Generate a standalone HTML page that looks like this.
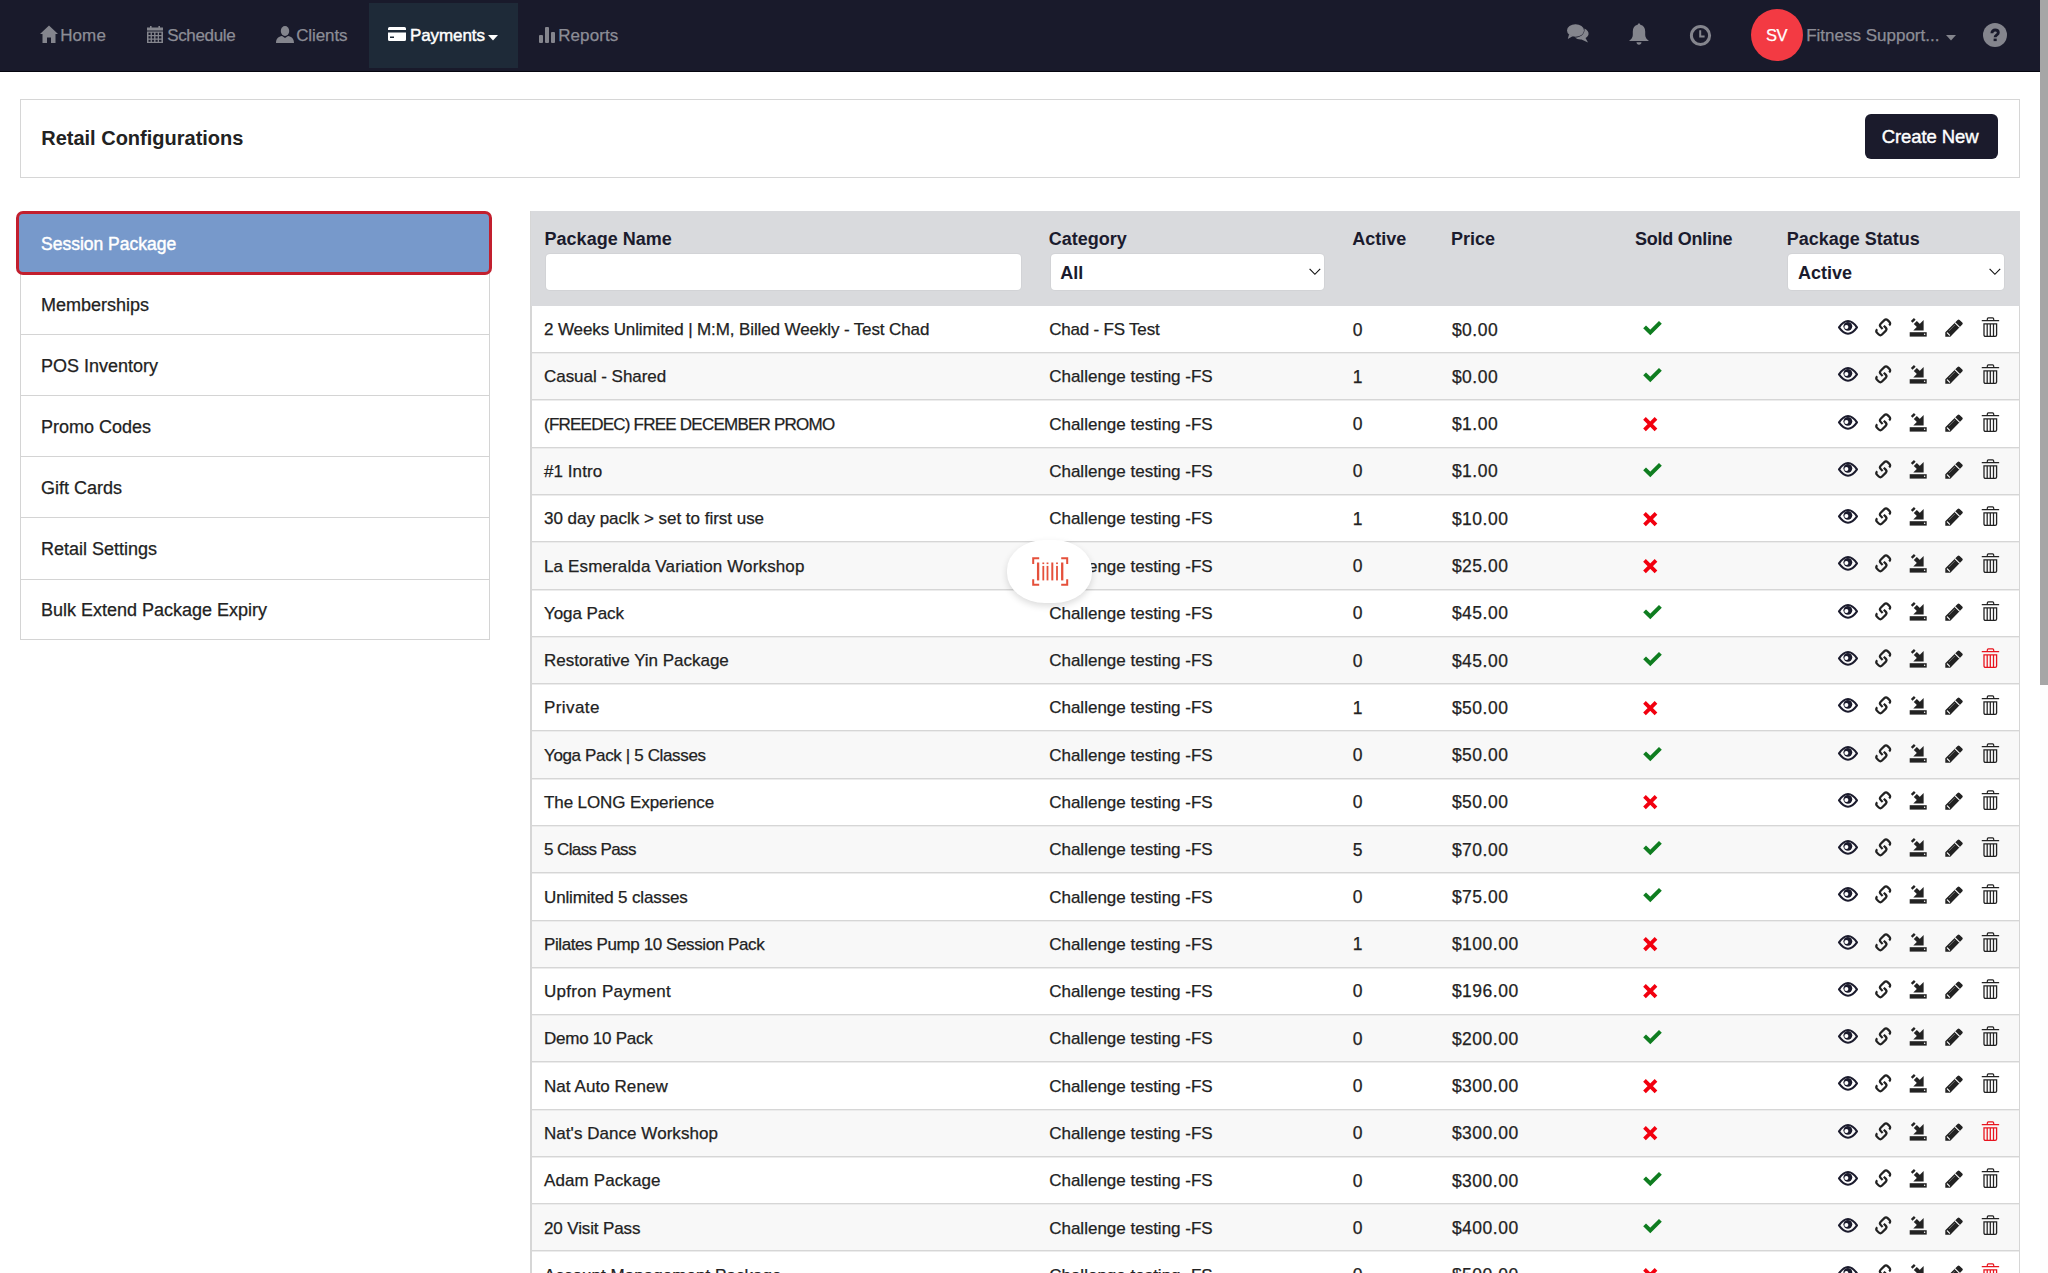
<!DOCTYPE html>
<html><head><meta charset="utf-8"><title>Retail Configurations</title>
<style>
html,body{margin:0;padding:0;}
body{width:2048px;height:1273px;overflow:hidden;position:relative;background:#fff;font-family:"Liberation Sans",sans-serif;}
.t{position:absolute;white-space:nowrap;}
.s{-webkit-text-stroke:0.25px currentColor;}
.a{position:absolute;}
svg{position:absolute;overflow:visible;}
</style></head><body>
<div class="a" style="left:2040px;top:0;width:8px;height:1273px;background:#fdfdfd"></div><div class="a" style="left:2040px;top:0;width:8px;height:685px;background:#a6a6a6"></div><div class="a" style="left:0;top:0;width:2040px;height:72px;background:#191a2b"></div><div class="a" style="left:0;top:70.5px;width:2040px;height:1.5px;background:#05050f"></div><div class="a" style="left:369px;top:3px;width:149px;height:65px;background:#1e2a38"></div><svg style="left:40px;top:25px" width="18" height="18" viewBox="0 0 18 18"><path d="M9 0.5 L18 9 L15.5 9 L15.5 18 L11 18 L11 12.5 L7 12.5 L7 18 L2.5 18 L2.5 9 L0 9 Z" fill="#84858d"/></svg><svg style="left:146.5px;top:26px" width="16" height="17" viewBox="0 0 16 17"><rect x="0" y="1.5" width="16" height="3" fill="#84858d"/><rect x="3" y="0" width="1.6" height="3" fill="#84858d"/><rect x="11.4" y="0" width="1.6" height="3" fill="#84858d"/><path d="M0 5.5 H16 V17 H0 Z M1.5 6.8 V9 H3.6 V6.8 Z M4.9 6.8 V9 H7.1 V6.8 Z M8.5 6.8 V9 H10.7 V6.8 Z M12 6.8 V9 H14.4 V6.8 Z M1.5 10.3 V12.5 H3.6 V10.3 Z M4.9 10.3 V12.5 H7.1 V10.3 Z M8.5 10.3 V12.5 H10.7 V10.3 Z M12 10.3 V12.5 H14.4 V10.3 Z M1.5 13.8 V15.8 H3.6 V13.8 Z M4.9 13.8 V15.8 H7.1 V13.8 Z M8.5 13.8 V15.8 H10.7 V13.8 Z M12 13.8 V15.8 H14.4 V13.8 Z" fill="#84858d" fill-rule="evenodd"/></svg><svg style="left:276px;top:26px" width="18" height="17" viewBox="0 0 18 17"><ellipse cx="9" cy="5" rx="4.2" ry="5" fill="#84858d"/><path d="M0 17 C0 12.5 2.5 10.5 6 10 L9 12 L12 10 C15.5 10.5 18 12.5 18 17 Z" fill="#84858d"/></svg><svg style="left:388px;top:27px" width="18" height="14" viewBox="0 0 18 14"><path d="M1.5 0 H16.5 A1.5 1.5 0 0 1 18 1.5 V12.5 A1.5 1.5 0 0 1 16.5 14 H1.5 A1.5 1.5 0 0 1 0 12.5 V1.5 A1.5 1.5 0 0 1 1.5 0 Z M0 3 V5.5 H18 V3 Z M2 9.5 V11 H6 V9.5 Z" fill="#fff" fill-rule="evenodd"/></svg><svg style="left:488px;top:34.5px" width="10" height="6" viewBox="0 0 10 6"><path d="M0 0 H10 L5 5.5 Z" fill="#fff"/></svg><svg style="left:539px;top:27px" width="17" height="16" viewBox="0 0 17 16"><rect x="0" y="8" width="4" height="8" rx="1" fill="#84858d"/><rect x="6" y="0" width="4" height="16" rx="1" fill="#84858d"/><rect x="12" y="5" width="4" height="11" rx="1" fill="#84858d"/></svg><div class="t s" style="left:60.2px;top:25.31px;font-size:17px;line-height:21px;color:#8c8d96;font-weight:normal;letter-spacing:0.1px;">Home</div>
<div class="t s" style="left:167.2px;top:25.31px;font-size:17px;line-height:21px;color:#8c8d96;font-weight:normal;letter-spacing:-0.35px;">Schedule</div>
<div class="t s" style="left:296.2px;top:25.31px;font-size:17px;line-height:21px;color:#8c8d96;font-weight:normal;letter-spacing:-0.1px;">Clients</div>
<div class="t" style="left:410px;top:25.31px;font-size:17px;line-height:21px;color:#fff;font-weight:normal;letter-spacing:-0.1px;-webkit-text-stroke:0.45px #fff;">Payments</div>
<div class="t s" style="left:558.2px;top:25.31px;font-size:17px;line-height:21px;color:#8c8d96;font-weight:normal;letter-spacing:0.1px;">Reports</div>
<svg style="left:1567px;top:24px" width="22" height="19" viewBox="0 0 22 19"><ellipse cx="8.5" cy="6.5" rx="8.5" ry="6.2" fill="#84858d"/><path d="M2 10.5 L0.8 15 L6 12 Z" fill="#84858d"/><path d="M17.5 4.5 C20.5 6 22 8 21.5 10.5 C21 12.5 19.5 13.5 18.5 14 L21 18.5 L14.5 15.5 C12 15.8 9.5 15 8 13.6 C13 13.5 17.5 10.5 17.5 6 Z" fill="#84858d"/></svg><svg style="left:1629px;top:23px" width="20" height="22" viewBox="0 0 20 22"><path d="M10 0.5 C10.8 0.5 11.2 1 11.3 1.8 C14.5 2.5 16.2 5 16.2 8.5 L16.2 12 C16.2 14.5 18 16.5 20 18 L0 18 C2 16.5 3.8 14.5 3.8 12 L3.8 8.5 C3.8 5 5.5 2.5 8.7 1.8 C8.8 1 9.2 0.5 10 0.5 Z M7.5 19.2 H12.5 C12.5 20.6 11.4 21.7 10 21.7 C8.6 21.7 7.5 20.6 7.5 19.2 Z" fill="#84858d"/></svg><svg style="left:1690px;top:25px" width="21" height="21" viewBox="0 0 21 21"><circle cx="10.5" cy="10.5" r="9.1" fill="none" stroke="#84858d" stroke-width="3"/><path d="M10.2 5.2 V11.4 H14.6" fill="none" stroke="#84858d" stroke-width="2"/></svg><div class="a" style="left:1751px;top:9px;width:52px;height:52px;border-radius:50%;background:#f33a43"></div><div class="t s" style="left:1766px;top:25.38px;font-size:16.5px;line-height:21px;color:#fff;font-weight:normal;letter-spacing:-0.5px;">SV</div>
<div class="t s" style="left:1806.2px;top:25.11px;font-size:17px;line-height:21px;color:#8c8d96;font-weight:normal;">Fitness Support...</div>
<svg style="left:1946px;top:35px" width="10" height="6" viewBox="0 0 10 6"><path d="M0 0 H10 L5 5.5 Z" fill="#84858d"/></svg><svg style="left:1983px;top:23px" width="24" height="24" viewBox="0 0 24 24"><circle cx="12" cy="12" r="12" fill="#84858d"/><path d="M8.9 10.2 C8.9 7.9 10.4 7.0 12.1 7.0 C13.9 7.0 15.3 8.0 15.3 9.7 C15.3 11.8 12.1 11.9 12.1 14.3" fill="none" stroke="#191a2b" stroke-width="2.9"/><rect x="10.6" y="15.6" width="3.1" height="2.5" fill="#191a2b"/></svg><div class="a" style="left:20px;top:99px;width:1998px;height:77px;border:1px solid #d6d6d6"></div><div class="t" style="left:41.2px;top:126.27px;font-size:20px;line-height:25px;color:#222;font-weight:bold;">Retail Configurations</div>
<div class="a" style="left:1865px;top:114px;width:132.5px;height:44.5px;background:#1b1b2c;border-radius:6px"></div><div class="t" style="left:1881.8px;top:124.99px;font-size:18.5px;line-height:23px;color:#fff;font-weight:normal;letter-spacing:-0.1px;-webkit-text-stroke:0.4px #fff;">Create New</div>
<div class="a" style="left:20px;top:273px;width:468px;height:366px;border:1px solid #d4d4d4;border-top:none"></div><div class="a" style="left:21px;top:334.1px;width:468px;height:1px;background:#d4d4d4"></div><div class="t s" style="left:41px;top:293.66px;font-size:18px;line-height:22px;color:#222;font-weight:normal;">Memberships</div>
<div class="a" style="left:21px;top:395.2px;width:468px;height:1px;background:#d4d4d4"></div><div class="t s" style="left:41px;top:354.76px;font-size:18px;line-height:22px;color:#222;font-weight:normal;">POS Inventory</div>
<div class="a" style="left:21px;top:456.3px;width:468px;height:1px;background:#d4d4d4"></div><div class="t s" style="left:41px;top:415.86px;font-size:18px;line-height:22px;color:#222;font-weight:normal;">Promo Codes</div>
<div class="a" style="left:21px;top:517.4px;width:468px;height:1px;background:#d4d4d4"></div><div class="t s" style="left:41px;top:476.96px;font-size:18px;line-height:22px;color:#222;font-weight:normal;">Gift Cards</div>
<div class="a" style="left:21px;top:578.5px;width:468px;height:1px;background:#d4d4d4"></div><div class="t s" style="left:41px;top:538.06px;font-size:18px;line-height:22px;color:#222;font-weight:normal;">Retail Settings</div>
<div class="t s" style="left:41px;top:599.16px;font-size:18px;line-height:22px;color:#222;font-weight:normal;">Bulk Extend Package Expiry</div>
<div class="a" style="left:16.2px;top:211.1px;width:469.4px;height:57.5px;border:3px solid #c21f2e;border-radius:7px;background:#7799cb"></div><div class="t" style="left:41px;top:232.64px;font-size:17.5px;line-height:22px;color:#fff;font-weight:normal;-webkit-text-stroke:0.45px #fff;">Session Package</div>
<div class="a" style="left:530px;top:211px;width:1490px;height:1062px;border-left:2px solid #d6d6d6;border-right:1px solid #d6d6d6;box-sizing:border-box"></div><div class="a" style="left:531px;top:211px;width:1489px;height:94.5px;background:#d9dadd"></div><div class="t" style="left:544.6px;top:228.36px;font-size:18px;line-height:22px;color:#1b1b2d;font-weight:bold;">Package Name</div>
<div class="t" style="left:1048.8px;top:228.36px;font-size:18px;line-height:22px;color:#1b1b2d;font-weight:bold;">Category</div>
<div class="t" style="left:1352.2px;top:228.36px;font-size:18px;line-height:22px;color:#1b1b2d;font-weight:bold;">Active</div>
<div class="t" style="left:1451.0px;top:228.36px;font-size:18px;line-height:22px;color:#1b1b2d;font-weight:bold;">Price</div>
<div class="t" style="left:1635.0px;top:228.36px;font-size:18px;line-height:22px;color:#1b1b2d;font-weight:bold;letter-spacing:-0.25px;">Sold Online</div>
<div class="t" style="left:1786.8px;top:228.36px;font-size:18px;line-height:22px;color:#1b1b2d;font-weight:bold;">Package Status</div>
<div class="a" style="left:546px;top:254px;width:475px;height:36px;background:#fff;border-radius:4px;box-shadow:0 0 0 1px #d2d3d6"></div><div class="a" style="left:1050.5px;top:254px;width:273.5px;height:36px;background:#fff;border-radius:4px;box-shadow:0 0 0 1px #d2d3d6"></div><div class="a" style="left:1788px;top:254px;width:216px;height:36px;background:#fff;border-radius:4px;box-shadow:0 0 0 1px #d2d3d6"></div><div class="t" style="left:1060.3px;top:261.56px;font-size:18px;line-height:22px;color:#1b1b2d;font-weight:bold;">All</div>
<div class="t" style="left:1798px;top:261.56px;font-size:18px;line-height:22px;color:#1b1b2d;font-weight:bold;">Active</div>
<svg style="left:1308.8px;top:268px" width="12" height="8" viewBox="0 0 12 8"><path d="M0.6 0.9 L5.9 6.3 L11.2 0.9" fill="none" stroke="#111" stroke-width="1.15"/></svg><svg style="left:1988.5px;top:268px" width="12" height="8" viewBox="0 0 12 8"><path d="M0.6 0.9 L5.9 6.3 L11.2 0.9" fill="none" stroke="#111" stroke-width="1.15"/></svg><div class="t s" style="left:544.0px;top:319.21px;font-size:17px;line-height:21px;color:#222;font-weight:normal;letter-spacing:-0.111px;">2 Weeks Unlimited | M:M, Billed Weekly - Test Chad</div>
<div class="t s" style="left:1049.2px;top:319.21px;font-size:17px;line-height:21px;color:#222;font-weight:normal;letter-spacing:-0.2px;">Chad - FS Test</div>
<div class="t s" style="left:1352.8px;top:318.54px;font-size:17.5px;line-height:22px;color:#222;font-weight:normal;">0</div>
<div class="t s" style="left:1451.9px;top:318.54px;font-size:17.5px;line-height:22px;color:#222;font-weight:normal;letter-spacing:0.5px;">$0.00</div>
<svg style="left:1642px;top:319.0px" width="21" height="18" viewBox="0 0 21 18"><path d="M2.6 7.8 L8.3 13.5 L18.4 3.4" fill="none" stroke="#0f7d20" stroke-width="4" stroke-linejoin="miter"/></svg><svg style="left:1838px;top:320.0px" width="20" height="15" viewBox="0 0 20 15"><path d="M1.0 7.4 Q10 -5.3 19.0 7.4 Q10 20.1 1.0 7.4 Z" fill="none" stroke="#1b1b2d" stroke-width="2.1" stroke-linejoin="round"/><circle cx="9.85" cy="6.3" r="4.4" fill="#1b1b2d"/><circle cx="8.4" cy="7.0" r="2.0" fill="#fff"/></svg><svg style="left:1874px;top:317.0px" width="18" height="20" viewBox="0 0 18 20"><g fill="none" stroke="#222" stroke-width="2.2"><path transform="translate(12,1.5) rotate(45)" d="M7.1 2.6 V2.3 Q7.1 0 4.8 0 H2.3 Q0 0 0 2.3 V7.5 Q0 9.8 2.3 9.8 H5"/><path transform="rotate(180 9.2 10.35) translate(12,1.5) rotate(45)" d="M7.1 2.6 V2.3 Q7.1 0 4.8 0 H2.3 Q0 0 0 2.3 V7.5 Q0 9.8 2.3 9.8 H5"/></g></svg><svg style="left:1909px;top:317.0px" width="19" height="20" viewBox="0 0 19 20"><rect x="0.7" y="15.2" width="17" height="4.4" fill="#222"/><circle cx="15.6" cy="17.3" r="0.75" fill="#fff"/><path d="M3.4 2.5 L5.1 4.2" stroke="#222" stroke-width="4.3"/><path d="M6.3 5.4 L11.5 10.6" stroke="#222" stroke-width="4.3"/><path d="M14.6 3 V13.5 H4.3 Z" fill="#222"/></svg><svg style="left:1944px;top:318.0px" width="20" height="20" viewBox="0 0 20 20"><path d="M1.3 14.2 L13.6 1.9 Q14.6 0.9 15.6 1.9 L18.3 4.6 Q19.3 5.6 18.3 6.6 L6.3 18.7 L1.3 18.7 Z" fill="#222"/><path d="M10.9 4.6 L15.7 9.4" stroke="#fff" stroke-width="1.1"/><path d="M5.3 12.6 L11.0 6.8" stroke="#fff" stroke-width="0.6" stroke-dasharray="0.8 0.6"/><path d="M3.3 14.9 L5.5 17.1" stroke="#fff" stroke-width="1.2" stroke-linecap="round"/></svg><svg style="left:1980px;top:315.0px" width="21" height="23" viewBox="0 0 21 23"><path d="M2.3 5.7 H18.6" stroke="#222" stroke-width="1.3" stroke-linecap="round"/><path d="M7.3 5.3 V3.9 Q7.3 2.9 8.4 2.9 H12.6 Q13.7 2.9 13.7 3.9 V5.3" fill="none" stroke="#222" stroke-width="1.2"/><path d="M4.0 8.8 H16.6 V19.9 Q16.6 21.3 15.1 21.3 H5.5 Q4.0 21.3 4.0 19.9 Z" fill="none" stroke="#222" stroke-width="1.3"/><path d="M7.2 9 V21 M10.3 9 V21 M13.5 9 V21" stroke="#222" stroke-width="1.25"/></svg><div class="a" style="left:532px;top:352.78px;width:1487px;height:47.28px;background:#f8f8f8"></div><div class="a" style="left:532px;top:352px;width:1487px;height:1px;background:#d6d6d6"></div><div class="a" style="left:532px;top:353px;width:1487px;height:1px;background:#ececec"></div><div class="t s" style="left:544.0px;top:366.49px;font-size:17px;line-height:21px;color:#222;font-weight:normal;letter-spacing:-0.046px;">Casual - Shared</div>
<div class="t s" style="left:1049.2px;top:366.49px;font-size:17px;line-height:21px;color:#222;font-weight:normal;">Challenge testing -FS</div>
<div class="t s" style="left:1352.8px;top:365.82px;font-size:17.5px;line-height:22px;color:#222;font-weight:normal;">1</div>
<div class="t s" style="left:1451.9px;top:365.82px;font-size:17.5px;line-height:22px;color:#222;font-weight:normal;letter-spacing:0.5px;">$0.00</div>
<svg style="left:1642px;top:366.28px" width="21" height="18" viewBox="0 0 21 18"><path d="M2.6 7.8 L8.3 13.5 L18.4 3.4" fill="none" stroke="#0f7d20" stroke-width="4" stroke-linejoin="miter"/></svg><svg style="left:1838px;top:367.28px" width="20" height="15" viewBox="0 0 20 15"><path d="M1.0 7.4 Q10 -5.3 19.0 7.4 Q10 20.1 1.0 7.4 Z" fill="none" stroke="#1b1b2d" stroke-width="2.1" stroke-linejoin="round"/><circle cx="9.85" cy="6.3" r="4.4" fill="#1b1b2d"/><circle cx="8.4" cy="7.0" r="2.0" fill="#fff"/></svg><svg style="left:1874px;top:364.28px" width="18" height="20" viewBox="0 0 18 20"><g fill="none" stroke="#222" stroke-width="2.2"><path transform="translate(12,1.5) rotate(45)" d="M7.1 2.6 V2.3 Q7.1 0 4.8 0 H2.3 Q0 0 0 2.3 V7.5 Q0 9.8 2.3 9.8 H5"/><path transform="rotate(180 9.2 10.35) translate(12,1.5) rotate(45)" d="M7.1 2.6 V2.3 Q7.1 0 4.8 0 H2.3 Q0 0 0 2.3 V7.5 Q0 9.8 2.3 9.8 H5"/></g></svg><svg style="left:1909px;top:364.28px" width="19" height="20" viewBox="0 0 19 20"><rect x="0.7" y="15.2" width="17" height="4.4" fill="#222"/><circle cx="15.6" cy="17.3" r="0.75" fill="#fff"/><path d="M3.4 2.5 L5.1 4.2" stroke="#222" stroke-width="4.3"/><path d="M6.3 5.4 L11.5 10.6" stroke="#222" stroke-width="4.3"/><path d="M14.6 3 V13.5 H4.3 Z" fill="#222"/></svg><svg style="left:1944px;top:365.28px" width="20" height="20" viewBox="0 0 20 20"><path d="M1.3 14.2 L13.6 1.9 Q14.6 0.9 15.6 1.9 L18.3 4.6 Q19.3 5.6 18.3 6.6 L6.3 18.7 L1.3 18.7 Z" fill="#222"/><path d="M10.9 4.6 L15.7 9.4" stroke="#fff" stroke-width="1.1"/><path d="M5.3 12.6 L11.0 6.8" stroke="#fff" stroke-width="0.6" stroke-dasharray="0.8 0.6"/><path d="M3.3 14.9 L5.5 17.1" stroke="#fff" stroke-width="1.2" stroke-linecap="round"/></svg><svg style="left:1980px;top:362.28px" width="21" height="23" viewBox="0 0 21 23"><path d="M2.3 5.7 H18.6" stroke="#222" stroke-width="1.3" stroke-linecap="round"/><path d="M7.3 5.3 V3.9 Q7.3 2.9 8.4 2.9 H12.6 Q13.7 2.9 13.7 3.9 V5.3" fill="none" stroke="#222" stroke-width="1.2"/><path d="M4.0 8.8 H16.6 V19.9 Q16.6 21.3 15.1 21.3 H5.5 Q4.0 21.3 4.0 19.9 Z" fill="none" stroke="#222" stroke-width="1.3"/><path d="M7.2 9 V21 M10.3 9 V21 M13.5 9 V21" stroke="#222" stroke-width="1.25"/></svg><div class="a" style="left:532px;top:399px;width:1487px;height:1px;background:#d6d6d6"></div><div class="a" style="left:532px;top:400px;width:1487px;height:1px;background:#ececec"></div><div class="t s" style="left:544.0px;top:413.77px;font-size:17px;line-height:21px;color:#222;font-weight:normal;letter-spacing:-0.766px;">(FREEDEC) FREE DECEMBER PROMO</div>
<div class="t s" style="left:1049.2px;top:413.77px;font-size:17px;line-height:21px;color:#222;font-weight:normal;">Challenge testing -FS</div>
<div class="t s" style="left:1352.8px;top:413.10px;font-size:17.5px;line-height:22px;color:#222;font-weight:normal;">0</div>
<div class="t s" style="left:1451.9px;top:413.10px;font-size:17.5px;line-height:22px;color:#222;font-weight:normal;letter-spacing:0.5px;">$1.00</div>
<svg style="left:1642px;top:416.0px" width="17" height="17" viewBox="0 0 17 17"><path d="M2.5 2.4 L14 13.9 M14 2.4 L2.5 13.9" stroke="#f2000f" stroke-width="3.8"/></svg><svg style="left:1838px;top:414.56px" width="20" height="15" viewBox="0 0 20 15"><path d="M1.0 7.4 Q10 -5.3 19.0 7.4 Q10 20.1 1.0 7.4 Z" fill="none" stroke="#1b1b2d" stroke-width="2.1" stroke-linejoin="round"/><circle cx="9.85" cy="6.3" r="4.4" fill="#1b1b2d"/><circle cx="8.4" cy="7.0" r="2.0" fill="#fff"/></svg><svg style="left:1874px;top:411.56px" width="18" height="20" viewBox="0 0 18 20"><g fill="none" stroke="#222" stroke-width="2.2"><path transform="translate(12,1.5) rotate(45)" d="M7.1 2.6 V2.3 Q7.1 0 4.8 0 H2.3 Q0 0 0 2.3 V7.5 Q0 9.8 2.3 9.8 H5"/><path transform="rotate(180 9.2 10.35) translate(12,1.5) rotate(45)" d="M7.1 2.6 V2.3 Q7.1 0 4.8 0 H2.3 Q0 0 0 2.3 V7.5 Q0 9.8 2.3 9.8 H5"/></g></svg><svg style="left:1909px;top:411.56px" width="19" height="20" viewBox="0 0 19 20"><rect x="0.7" y="15.2" width="17" height="4.4" fill="#222"/><circle cx="15.6" cy="17.3" r="0.75" fill="#fff"/><path d="M3.4 2.5 L5.1 4.2" stroke="#222" stroke-width="4.3"/><path d="M6.3 5.4 L11.5 10.6" stroke="#222" stroke-width="4.3"/><path d="M14.6 3 V13.5 H4.3 Z" fill="#222"/></svg><svg style="left:1944px;top:412.56px" width="20" height="20" viewBox="0 0 20 20"><path d="M1.3 14.2 L13.6 1.9 Q14.6 0.9 15.6 1.9 L18.3 4.6 Q19.3 5.6 18.3 6.6 L6.3 18.7 L1.3 18.7 Z" fill="#222"/><path d="M10.9 4.6 L15.7 9.4" stroke="#fff" stroke-width="1.1"/><path d="M5.3 12.6 L11.0 6.8" stroke="#fff" stroke-width="0.6" stroke-dasharray="0.8 0.6"/><path d="M3.3 14.9 L5.5 17.1" stroke="#fff" stroke-width="1.2" stroke-linecap="round"/></svg><svg style="left:1980px;top:409.56px" width="21" height="23" viewBox="0 0 21 23"><path d="M2.3 5.7 H18.6" stroke="#222" stroke-width="1.3" stroke-linecap="round"/><path d="M7.3 5.3 V3.9 Q7.3 2.9 8.4 2.9 H12.6 Q13.7 2.9 13.7 3.9 V5.3" fill="none" stroke="#222" stroke-width="1.2"/><path d="M4.0 8.8 H16.6 V19.9 Q16.6 21.3 15.1 21.3 H5.5 Q4.0 21.3 4.0 19.9 Z" fill="none" stroke="#222" stroke-width="1.3"/><path d="M7.2 9 V21 M10.3 9 V21 M13.5 9 V21" stroke="#222" stroke-width="1.25"/></svg><div class="a" style="left:532px;top:447.34px;width:1487px;height:47.28px;background:#f8f8f8"></div><div class="a" style="left:532px;top:447px;width:1487px;height:1px;background:#d6d6d6"></div><div class="a" style="left:532px;top:448px;width:1487px;height:1px;background:#ececec"></div><div class="t s" style="left:544.0px;top:461.05px;font-size:17px;line-height:21px;color:#222;font-weight:normal;letter-spacing:0.063px;">#1 Intro</div>
<div class="t s" style="left:1049.2px;top:461.05px;font-size:17px;line-height:21px;color:#222;font-weight:normal;">Challenge testing -FS</div>
<div class="t s" style="left:1352.8px;top:460.38px;font-size:17.5px;line-height:22px;color:#222;font-weight:normal;">0</div>
<div class="t s" style="left:1451.9px;top:460.38px;font-size:17.5px;line-height:22px;color:#222;font-weight:normal;letter-spacing:0.5px;">$1.00</div>
<svg style="left:1642px;top:460.84000000000003px" width="21" height="18" viewBox="0 0 21 18"><path d="M2.6 7.8 L8.3 13.5 L18.4 3.4" fill="none" stroke="#0f7d20" stroke-width="4" stroke-linejoin="miter"/></svg><svg style="left:1838px;top:461.84000000000003px" width="20" height="15" viewBox="0 0 20 15"><path d="M1.0 7.4 Q10 -5.3 19.0 7.4 Q10 20.1 1.0 7.4 Z" fill="none" stroke="#1b1b2d" stroke-width="2.1" stroke-linejoin="round"/><circle cx="9.85" cy="6.3" r="4.4" fill="#1b1b2d"/><circle cx="8.4" cy="7.0" r="2.0" fill="#fff"/></svg><svg style="left:1874px;top:458.84000000000003px" width="18" height="20" viewBox="0 0 18 20"><g fill="none" stroke="#222" stroke-width="2.2"><path transform="translate(12,1.5) rotate(45)" d="M7.1 2.6 V2.3 Q7.1 0 4.8 0 H2.3 Q0 0 0 2.3 V7.5 Q0 9.8 2.3 9.8 H5"/><path transform="rotate(180 9.2 10.35) translate(12,1.5) rotate(45)" d="M7.1 2.6 V2.3 Q7.1 0 4.8 0 H2.3 Q0 0 0 2.3 V7.5 Q0 9.8 2.3 9.8 H5"/></g></svg><svg style="left:1909px;top:458.84000000000003px" width="19" height="20" viewBox="0 0 19 20"><rect x="0.7" y="15.2" width="17" height="4.4" fill="#222"/><circle cx="15.6" cy="17.3" r="0.75" fill="#fff"/><path d="M3.4 2.5 L5.1 4.2" stroke="#222" stroke-width="4.3"/><path d="M6.3 5.4 L11.5 10.6" stroke="#222" stroke-width="4.3"/><path d="M14.6 3 V13.5 H4.3 Z" fill="#222"/></svg><svg style="left:1944px;top:459.84000000000003px" width="20" height="20" viewBox="0 0 20 20"><path d="M1.3 14.2 L13.6 1.9 Q14.6 0.9 15.6 1.9 L18.3 4.6 Q19.3 5.6 18.3 6.6 L6.3 18.7 L1.3 18.7 Z" fill="#222"/><path d="M10.9 4.6 L15.7 9.4" stroke="#fff" stroke-width="1.1"/><path d="M5.3 12.6 L11.0 6.8" stroke="#fff" stroke-width="0.6" stroke-dasharray="0.8 0.6"/><path d="M3.3 14.9 L5.5 17.1" stroke="#fff" stroke-width="1.2" stroke-linecap="round"/></svg><svg style="left:1980px;top:456.84000000000003px" width="21" height="23" viewBox="0 0 21 23"><path d="M2.3 5.7 H18.6" stroke="#222" stroke-width="1.3" stroke-linecap="round"/><path d="M7.3 5.3 V3.9 Q7.3 2.9 8.4 2.9 H12.6 Q13.7 2.9 13.7 3.9 V5.3" fill="none" stroke="#222" stroke-width="1.2"/><path d="M4.0 8.8 H16.6 V19.9 Q16.6 21.3 15.1 21.3 H5.5 Q4.0 21.3 4.0 19.9 Z" fill="none" stroke="#222" stroke-width="1.3"/><path d="M7.2 9 V21 M10.3 9 V21 M13.5 9 V21" stroke="#222" stroke-width="1.25"/></svg><div class="a" style="left:532px;top:494px;width:1487px;height:1px;background:#d6d6d6"></div><div class="a" style="left:532px;top:495px;width:1487px;height:1px;background:#ececec"></div><div class="t s" style="left:544.0px;top:508.33px;font-size:17px;line-height:21px;color:#222;font-weight:normal;letter-spacing:-0.019px;">30 day paclk &gt; set to first use</div>
<div class="t s" style="left:1049.2px;top:508.33px;font-size:17px;line-height:21px;color:#222;font-weight:normal;">Challenge testing -FS</div>
<div class="t s" style="left:1352.8px;top:507.66px;font-size:17.5px;line-height:22px;color:#222;font-weight:normal;">1</div>
<div class="t s" style="left:1451.9px;top:507.66px;font-size:17.5px;line-height:22px;color:#222;font-weight:normal;letter-spacing:0.5px;">$10.00</div>
<svg style="left:1642px;top:510.56px" width="17" height="17" viewBox="0 0 17 17"><path d="M2.5 2.4 L14 13.9 M14 2.4 L2.5 13.9" stroke="#f2000f" stroke-width="3.8"/></svg><svg style="left:1838px;top:509.12px" width="20" height="15" viewBox="0 0 20 15"><path d="M1.0 7.4 Q10 -5.3 19.0 7.4 Q10 20.1 1.0 7.4 Z" fill="none" stroke="#1b1b2d" stroke-width="2.1" stroke-linejoin="round"/><circle cx="9.85" cy="6.3" r="4.4" fill="#1b1b2d"/><circle cx="8.4" cy="7.0" r="2.0" fill="#fff"/></svg><svg style="left:1874px;top:506.12px" width="18" height="20" viewBox="0 0 18 20"><g fill="none" stroke="#222" stroke-width="2.2"><path transform="translate(12,1.5) rotate(45)" d="M7.1 2.6 V2.3 Q7.1 0 4.8 0 H2.3 Q0 0 0 2.3 V7.5 Q0 9.8 2.3 9.8 H5"/><path transform="rotate(180 9.2 10.35) translate(12,1.5) rotate(45)" d="M7.1 2.6 V2.3 Q7.1 0 4.8 0 H2.3 Q0 0 0 2.3 V7.5 Q0 9.8 2.3 9.8 H5"/></g></svg><svg style="left:1909px;top:506.12px" width="19" height="20" viewBox="0 0 19 20"><rect x="0.7" y="15.2" width="17" height="4.4" fill="#222"/><circle cx="15.6" cy="17.3" r="0.75" fill="#fff"/><path d="M3.4 2.5 L5.1 4.2" stroke="#222" stroke-width="4.3"/><path d="M6.3 5.4 L11.5 10.6" stroke="#222" stroke-width="4.3"/><path d="M14.6 3 V13.5 H4.3 Z" fill="#222"/></svg><svg style="left:1944px;top:507.12px" width="20" height="20" viewBox="0 0 20 20"><path d="M1.3 14.2 L13.6 1.9 Q14.6 0.9 15.6 1.9 L18.3 4.6 Q19.3 5.6 18.3 6.6 L6.3 18.7 L1.3 18.7 Z" fill="#222"/><path d="M10.9 4.6 L15.7 9.4" stroke="#fff" stroke-width="1.1"/><path d="M5.3 12.6 L11.0 6.8" stroke="#fff" stroke-width="0.6" stroke-dasharray="0.8 0.6"/><path d="M3.3 14.9 L5.5 17.1" stroke="#fff" stroke-width="1.2" stroke-linecap="round"/></svg><svg style="left:1980px;top:504.12px" width="21" height="23" viewBox="0 0 21 23"><path d="M2.3 5.7 H18.6" stroke="#222" stroke-width="1.3" stroke-linecap="round"/><path d="M7.3 5.3 V3.9 Q7.3 2.9 8.4 2.9 H12.6 Q13.7 2.9 13.7 3.9 V5.3" fill="none" stroke="#222" stroke-width="1.2"/><path d="M4.0 8.8 H16.6 V19.9 Q16.6 21.3 15.1 21.3 H5.5 Q4.0 21.3 4.0 19.9 Z" fill="none" stroke="#222" stroke-width="1.3"/><path d="M7.2 9 V21 M10.3 9 V21 M13.5 9 V21" stroke="#222" stroke-width="1.25"/></svg><div class="a" style="left:532px;top:541.90px;width:1487px;height:47.28px;background:#f8f8f8"></div><div class="a" style="left:532px;top:541px;width:1487px;height:1px;background:#d6d6d6"></div><div class="a" style="left:532px;top:542px;width:1487px;height:1px;background:#ececec"></div><div class="t s" style="left:544.0px;top:555.61px;font-size:17px;line-height:21px;color:#222;font-weight:normal;letter-spacing:0.134px;">La Esmeralda Variation Workshop</div>
<div class="t s" style="left:1049.2px;top:555.61px;font-size:17px;line-height:21px;color:#222;font-weight:normal;">Challenge testing -FS</div>
<div class="t s" style="left:1352.8px;top:554.94px;font-size:17.5px;line-height:22px;color:#222;font-weight:normal;">0</div>
<div class="t s" style="left:1451.9px;top:554.94px;font-size:17.5px;line-height:22px;color:#222;font-weight:normal;letter-spacing:0.5px;">$25.00</div>
<svg style="left:1642px;top:557.8399999999999px" width="17" height="17" viewBox="0 0 17 17"><path d="M2.5 2.4 L14 13.9 M14 2.4 L2.5 13.9" stroke="#f2000f" stroke-width="3.8"/></svg><svg style="left:1838px;top:556.4px" width="20" height="15" viewBox="0 0 20 15"><path d="M1.0 7.4 Q10 -5.3 19.0 7.4 Q10 20.1 1.0 7.4 Z" fill="none" stroke="#1b1b2d" stroke-width="2.1" stroke-linejoin="round"/><circle cx="9.85" cy="6.3" r="4.4" fill="#1b1b2d"/><circle cx="8.4" cy="7.0" r="2.0" fill="#fff"/></svg><svg style="left:1874px;top:553.4px" width="18" height="20" viewBox="0 0 18 20"><g fill="none" stroke="#222" stroke-width="2.2"><path transform="translate(12,1.5) rotate(45)" d="M7.1 2.6 V2.3 Q7.1 0 4.8 0 H2.3 Q0 0 0 2.3 V7.5 Q0 9.8 2.3 9.8 H5"/><path transform="rotate(180 9.2 10.35) translate(12,1.5) rotate(45)" d="M7.1 2.6 V2.3 Q7.1 0 4.8 0 H2.3 Q0 0 0 2.3 V7.5 Q0 9.8 2.3 9.8 H5"/></g></svg><svg style="left:1909px;top:553.4px" width="19" height="20" viewBox="0 0 19 20"><rect x="0.7" y="15.2" width="17" height="4.4" fill="#222"/><circle cx="15.6" cy="17.3" r="0.75" fill="#fff"/><path d="M3.4 2.5 L5.1 4.2" stroke="#222" stroke-width="4.3"/><path d="M6.3 5.4 L11.5 10.6" stroke="#222" stroke-width="4.3"/><path d="M14.6 3 V13.5 H4.3 Z" fill="#222"/></svg><svg style="left:1944px;top:554.4px" width="20" height="20" viewBox="0 0 20 20"><path d="M1.3 14.2 L13.6 1.9 Q14.6 0.9 15.6 1.9 L18.3 4.6 Q19.3 5.6 18.3 6.6 L6.3 18.7 L1.3 18.7 Z" fill="#222"/><path d="M10.9 4.6 L15.7 9.4" stroke="#fff" stroke-width="1.1"/><path d="M5.3 12.6 L11.0 6.8" stroke="#fff" stroke-width="0.6" stroke-dasharray="0.8 0.6"/><path d="M3.3 14.9 L5.5 17.1" stroke="#fff" stroke-width="1.2" stroke-linecap="round"/></svg><svg style="left:1980px;top:551.4px" width="21" height="23" viewBox="0 0 21 23"><path d="M2.3 5.7 H18.6" stroke="#222" stroke-width="1.3" stroke-linecap="round"/><path d="M7.3 5.3 V3.9 Q7.3 2.9 8.4 2.9 H12.6 Q13.7 2.9 13.7 3.9 V5.3" fill="none" stroke="#222" stroke-width="1.2"/><path d="M4.0 8.8 H16.6 V19.9 Q16.6 21.3 15.1 21.3 H5.5 Q4.0 21.3 4.0 19.9 Z" fill="none" stroke="#222" stroke-width="1.3"/><path d="M7.2 9 V21 M10.3 9 V21 M13.5 9 V21" stroke="#222" stroke-width="1.25"/></svg><div class="a" style="left:532px;top:589px;width:1487px;height:1px;background:#d6d6d6"></div><div class="a" style="left:532px;top:590px;width:1487px;height:1px;background:#ececec"></div><div class="t s" style="left:544.0px;top:602.89px;font-size:17px;line-height:21px;color:#222;font-weight:normal;letter-spacing:-0.084px;">Yoga Pack</div>
<div class="t s" style="left:1049.2px;top:602.89px;font-size:17px;line-height:21px;color:#222;font-weight:normal;">Challenge testing -FS</div>
<div class="t s" style="left:1352.8px;top:602.22px;font-size:17.5px;line-height:22px;color:#222;font-weight:normal;">0</div>
<div class="t s" style="left:1451.9px;top:602.22px;font-size:17.5px;line-height:22px;color:#222;font-weight:normal;letter-spacing:0.5px;">$45.00</div>
<svg style="left:1642px;top:602.6800000000001px" width="21" height="18" viewBox="0 0 21 18"><path d="M2.6 7.8 L8.3 13.5 L18.4 3.4" fill="none" stroke="#0f7d20" stroke-width="4" stroke-linejoin="miter"/></svg><svg style="left:1838px;top:603.6800000000001px" width="20" height="15" viewBox="0 0 20 15"><path d="M1.0 7.4 Q10 -5.3 19.0 7.4 Q10 20.1 1.0 7.4 Z" fill="none" stroke="#1b1b2d" stroke-width="2.1" stroke-linejoin="round"/><circle cx="9.85" cy="6.3" r="4.4" fill="#1b1b2d"/><circle cx="8.4" cy="7.0" r="2.0" fill="#fff"/></svg><svg style="left:1874px;top:600.6800000000001px" width="18" height="20" viewBox="0 0 18 20"><g fill="none" stroke="#222" stroke-width="2.2"><path transform="translate(12,1.5) rotate(45)" d="M7.1 2.6 V2.3 Q7.1 0 4.8 0 H2.3 Q0 0 0 2.3 V7.5 Q0 9.8 2.3 9.8 H5"/><path transform="rotate(180 9.2 10.35) translate(12,1.5) rotate(45)" d="M7.1 2.6 V2.3 Q7.1 0 4.8 0 H2.3 Q0 0 0 2.3 V7.5 Q0 9.8 2.3 9.8 H5"/></g></svg><svg style="left:1909px;top:600.6800000000001px" width="19" height="20" viewBox="0 0 19 20"><rect x="0.7" y="15.2" width="17" height="4.4" fill="#222"/><circle cx="15.6" cy="17.3" r="0.75" fill="#fff"/><path d="M3.4 2.5 L5.1 4.2" stroke="#222" stroke-width="4.3"/><path d="M6.3 5.4 L11.5 10.6" stroke="#222" stroke-width="4.3"/><path d="M14.6 3 V13.5 H4.3 Z" fill="#222"/></svg><svg style="left:1944px;top:601.6800000000001px" width="20" height="20" viewBox="0 0 20 20"><path d="M1.3 14.2 L13.6 1.9 Q14.6 0.9 15.6 1.9 L18.3 4.6 Q19.3 5.6 18.3 6.6 L6.3 18.7 L1.3 18.7 Z" fill="#222"/><path d="M10.9 4.6 L15.7 9.4" stroke="#fff" stroke-width="1.1"/><path d="M5.3 12.6 L11.0 6.8" stroke="#fff" stroke-width="0.6" stroke-dasharray="0.8 0.6"/><path d="M3.3 14.9 L5.5 17.1" stroke="#fff" stroke-width="1.2" stroke-linecap="round"/></svg><svg style="left:1980px;top:598.6800000000001px" width="21" height="23" viewBox="0 0 21 23"><path d="M2.3 5.7 H18.6" stroke="#222" stroke-width="1.3" stroke-linecap="round"/><path d="M7.3 5.3 V3.9 Q7.3 2.9 8.4 2.9 H12.6 Q13.7 2.9 13.7 3.9 V5.3" fill="none" stroke="#222" stroke-width="1.2"/><path d="M4.0 8.8 H16.6 V19.9 Q16.6 21.3 15.1 21.3 H5.5 Q4.0 21.3 4.0 19.9 Z" fill="none" stroke="#222" stroke-width="1.3"/><path d="M7.2 9 V21 M10.3 9 V21 M13.5 9 V21" stroke="#222" stroke-width="1.25"/></svg><div class="a" style="left:532px;top:636.46px;width:1487px;height:47.28px;background:#f8f8f8"></div><div class="a" style="left:532px;top:636px;width:1487px;height:1px;background:#d6d6d6"></div><div class="a" style="left:532px;top:637px;width:1487px;height:1px;background:#ececec"></div><div class="t s" style="left:544.0px;top:650.17px;font-size:17px;line-height:21px;color:#222;font-weight:normal;letter-spacing:-0.019px;">Restorative Yin Package</div>
<div class="t s" style="left:1049.2px;top:650.17px;font-size:17px;line-height:21px;color:#222;font-weight:normal;">Challenge testing -FS</div>
<div class="t s" style="left:1352.8px;top:649.50px;font-size:17.5px;line-height:22px;color:#222;font-weight:normal;">0</div>
<div class="t s" style="left:1451.9px;top:649.50px;font-size:17.5px;line-height:22px;color:#222;font-weight:normal;letter-spacing:0.5px;">$45.00</div>
<svg style="left:1642px;top:649.96px" width="21" height="18" viewBox="0 0 21 18"><path d="M2.6 7.8 L8.3 13.5 L18.4 3.4" fill="none" stroke="#0f7d20" stroke-width="4" stroke-linejoin="miter"/></svg><svg style="left:1838px;top:650.96px" width="20" height="15" viewBox="0 0 20 15"><path d="M1.0 7.4 Q10 -5.3 19.0 7.4 Q10 20.1 1.0 7.4 Z" fill="none" stroke="#1b1b2d" stroke-width="2.1" stroke-linejoin="round"/><circle cx="9.85" cy="6.3" r="4.4" fill="#1b1b2d"/><circle cx="8.4" cy="7.0" r="2.0" fill="#fff"/></svg><svg style="left:1874px;top:647.96px" width="18" height="20" viewBox="0 0 18 20"><g fill="none" stroke="#222" stroke-width="2.2"><path transform="translate(12,1.5) rotate(45)" d="M7.1 2.6 V2.3 Q7.1 0 4.8 0 H2.3 Q0 0 0 2.3 V7.5 Q0 9.8 2.3 9.8 H5"/><path transform="rotate(180 9.2 10.35) translate(12,1.5) rotate(45)" d="M7.1 2.6 V2.3 Q7.1 0 4.8 0 H2.3 Q0 0 0 2.3 V7.5 Q0 9.8 2.3 9.8 H5"/></g></svg><svg style="left:1909px;top:647.96px" width="19" height="20" viewBox="0 0 19 20"><rect x="0.7" y="15.2" width="17" height="4.4" fill="#222"/><circle cx="15.6" cy="17.3" r="0.75" fill="#fff"/><path d="M3.4 2.5 L5.1 4.2" stroke="#222" stroke-width="4.3"/><path d="M6.3 5.4 L11.5 10.6" stroke="#222" stroke-width="4.3"/><path d="M14.6 3 V13.5 H4.3 Z" fill="#222"/></svg><svg style="left:1944px;top:648.96px" width="20" height="20" viewBox="0 0 20 20"><path d="M1.3 14.2 L13.6 1.9 Q14.6 0.9 15.6 1.9 L18.3 4.6 Q19.3 5.6 18.3 6.6 L6.3 18.7 L1.3 18.7 Z" fill="#222"/><path d="M10.9 4.6 L15.7 9.4" stroke="#fff" stroke-width="1.1"/><path d="M5.3 12.6 L11.0 6.8" stroke="#fff" stroke-width="0.6" stroke-dasharray="0.8 0.6"/><path d="M3.3 14.9 L5.5 17.1" stroke="#fff" stroke-width="1.2" stroke-linecap="round"/></svg><svg style="left:1980px;top:645.96px" width="21" height="23" viewBox="0 0 21 23"><path d="M2.3 5.7 H18.6" stroke="#e8141e" stroke-width="1.3" stroke-linecap="round"/><path d="M7.3 5.3 V3.9 Q7.3 2.9 8.4 2.9 H12.6 Q13.7 2.9 13.7 3.9 V5.3" fill="none" stroke="#e8141e" stroke-width="1.2"/><path d="M4.0 8.8 H16.6 V19.9 Q16.6 21.3 15.1 21.3 H5.5 Q4.0 21.3 4.0 19.9 Z" fill="none" stroke="#e8141e" stroke-width="1.3"/><path d="M7.2 9 V21 M10.3 9 V21 M13.5 9 V21" stroke="#e8141e" stroke-width="1.25"/></svg><div class="a" style="left:532px;top:683px;width:1487px;height:1px;background:#d6d6d6"></div><div class="a" style="left:532px;top:684px;width:1487px;height:1px;background:#ececec"></div><div class="t s" style="left:544.0px;top:697.45px;font-size:17px;line-height:21px;color:#222;font-weight:normal;letter-spacing:0.413px;">Private</div>
<div class="t s" style="left:1049.2px;top:697.45px;font-size:17px;line-height:21px;color:#222;font-weight:normal;">Challenge testing -FS</div>
<div class="t s" style="left:1352.8px;top:696.78px;font-size:17.5px;line-height:22px;color:#222;font-weight:normal;">1</div>
<div class="t s" style="left:1451.9px;top:696.78px;font-size:17.5px;line-height:22px;color:#222;font-weight:normal;letter-spacing:0.5px;">$50.00</div>
<svg style="left:1642px;top:699.6800000000001px" width="17" height="17" viewBox="0 0 17 17"><path d="M2.5 2.4 L14 13.9 M14 2.4 L2.5 13.9" stroke="#f2000f" stroke-width="3.8"/></svg><svg style="left:1838px;top:698.24px" width="20" height="15" viewBox="0 0 20 15"><path d="M1.0 7.4 Q10 -5.3 19.0 7.4 Q10 20.1 1.0 7.4 Z" fill="none" stroke="#1b1b2d" stroke-width="2.1" stroke-linejoin="round"/><circle cx="9.85" cy="6.3" r="4.4" fill="#1b1b2d"/><circle cx="8.4" cy="7.0" r="2.0" fill="#fff"/></svg><svg style="left:1874px;top:695.24px" width="18" height="20" viewBox="0 0 18 20"><g fill="none" stroke="#222" stroke-width="2.2"><path transform="translate(12,1.5) rotate(45)" d="M7.1 2.6 V2.3 Q7.1 0 4.8 0 H2.3 Q0 0 0 2.3 V7.5 Q0 9.8 2.3 9.8 H5"/><path transform="rotate(180 9.2 10.35) translate(12,1.5) rotate(45)" d="M7.1 2.6 V2.3 Q7.1 0 4.8 0 H2.3 Q0 0 0 2.3 V7.5 Q0 9.8 2.3 9.8 H5"/></g></svg><svg style="left:1909px;top:695.24px" width="19" height="20" viewBox="0 0 19 20"><rect x="0.7" y="15.2" width="17" height="4.4" fill="#222"/><circle cx="15.6" cy="17.3" r="0.75" fill="#fff"/><path d="M3.4 2.5 L5.1 4.2" stroke="#222" stroke-width="4.3"/><path d="M6.3 5.4 L11.5 10.6" stroke="#222" stroke-width="4.3"/><path d="M14.6 3 V13.5 H4.3 Z" fill="#222"/></svg><svg style="left:1944px;top:696.24px" width="20" height="20" viewBox="0 0 20 20"><path d="M1.3 14.2 L13.6 1.9 Q14.6 0.9 15.6 1.9 L18.3 4.6 Q19.3 5.6 18.3 6.6 L6.3 18.7 L1.3 18.7 Z" fill="#222"/><path d="M10.9 4.6 L15.7 9.4" stroke="#fff" stroke-width="1.1"/><path d="M5.3 12.6 L11.0 6.8" stroke="#fff" stroke-width="0.6" stroke-dasharray="0.8 0.6"/><path d="M3.3 14.9 L5.5 17.1" stroke="#fff" stroke-width="1.2" stroke-linecap="round"/></svg><svg style="left:1980px;top:693.24px" width="21" height="23" viewBox="0 0 21 23"><path d="M2.3 5.7 H18.6" stroke="#222" stroke-width="1.3" stroke-linecap="round"/><path d="M7.3 5.3 V3.9 Q7.3 2.9 8.4 2.9 H12.6 Q13.7 2.9 13.7 3.9 V5.3" fill="none" stroke="#222" stroke-width="1.2"/><path d="M4.0 8.8 H16.6 V19.9 Q16.6 21.3 15.1 21.3 H5.5 Q4.0 21.3 4.0 19.9 Z" fill="none" stroke="#222" stroke-width="1.3"/><path d="M7.2 9 V21 M10.3 9 V21 M13.5 9 V21" stroke="#222" stroke-width="1.25"/></svg><div class="a" style="left:532px;top:731.02px;width:1487px;height:47.28px;background:#f8f8f8"></div><div class="a" style="left:532px;top:730px;width:1487px;height:1px;background:#d6d6d6"></div><div class="a" style="left:532px;top:731px;width:1487px;height:1px;background:#ececec"></div><div class="t s" style="left:544.0px;top:744.73px;font-size:17px;line-height:21px;color:#222;font-weight:normal;letter-spacing:-0.359px;">Yoga Pack | 5 Classes</div>
<div class="t s" style="left:1049.2px;top:744.73px;font-size:17px;line-height:21px;color:#222;font-weight:normal;">Challenge testing -FS</div>
<div class="t s" style="left:1352.8px;top:744.06px;font-size:17.5px;line-height:22px;color:#222;font-weight:normal;">0</div>
<div class="t s" style="left:1451.9px;top:744.06px;font-size:17.5px;line-height:22px;color:#222;font-weight:normal;letter-spacing:0.5px;">$50.00</div>
<svg style="left:1642px;top:744.52px" width="21" height="18" viewBox="0 0 21 18"><path d="M2.6 7.8 L8.3 13.5 L18.4 3.4" fill="none" stroke="#0f7d20" stroke-width="4" stroke-linejoin="miter"/></svg><svg style="left:1838px;top:745.52px" width="20" height="15" viewBox="0 0 20 15"><path d="M1.0 7.4 Q10 -5.3 19.0 7.4 Q10 20.1 1.0 7.4 Z" fill="none" stroke="#1b1b2d" stroke-width="2.1" stroke-linejoin="round"/><circle cx="9.85" cy="6.3" r="4.4" fill="#1b1b2d"/><circle cx="8.4" cy="7.0" r="2.0" fill="#fff"/></svg><svg style="left:1874px;top:742.52px" width="18" height="20" viewBox="0 0 18 20"><g fill="none" stroke="#222" stroke-width="2.2"><path transform="translate(12,1.5) rotate(45)" d="M7.1 2.6 V2.3 Q7.1 0 4.8 0 H2.3 Q0 0 0 2.3 V7.5 Q0 9.8 2.3 9.8 H5"/><path transform="rotate(180 9.2 10.35) translate(12,1.5) rotate(45)" d="M7.1 2.6 V2.3 Q7.1 0 4.8 0 H2.3 Q0 0 0 2.3 V7.5 Q0 9.8 2.3 9.8 H5"/></g></svg><svg style="left:1909px;top:742.52px" width="19" height="20" viewBox="0 0 19 20"><rect x="0.7" y="15.2" width="17" height="4.4" fill="#222"/><circle cx="15.6" cy="17.3" r="0.75" fill="#fff"/><path d="M3.4 2.5 L5.1 4.2" stroke="#222" stroke-width="4.3"/><path d="M6.3 5.4 L11.5 10.6" stroke="#222" stroke-width="4.3"/><path d="M14.6 3 V13.5 H4.3 Z" fill="#222"/></svg><svg style="left:1944px;top:743.52px" width="20" height="20" viewBox="0 0 20 20"><path d="M1.3 14.2 L13.6 1.9 Q14.6 0.9 15.6 1.9 L18.3 4.6 Q19.3 5.6 18.3 6.6 L6.3 18.7 L1.3 18.7 Z" fill="#222"/><path d="M10.9 4.6 L15.7 9.4" stroke="#fff" stroke-width="1.1"/><path d="M5.3 12.6 L11.0 6.8" stroke="#fff" stroke-width="0.6" stroke-dasharray="0.8 0.6"/><path d="M3.3 14.9 L5.5 17.1" stroke="#fff" stroke-width="1.2" stroke-linecap="round"/></svg><svg style="left:1980px;top:740.52px" width="21" height="23" viewBox="0 0 21 23"><path d="M2.3 5.7 H18.6" stroke="#222" stroke-width="1.3" stroke-linecap="round"/><path d="M7.3 5.3 V3.9 Q7.3 2.9 8.4 2.9 H12.6 Q13.7 2.9 13.7 3.9 V5.3" fill="none" stroke="#222" stroke-width="1.2"/><path d="M4.0 8.8 H16.6 V19.9 Q16.6 21.3 15.1 21.3 H5.5 Q4.0 21.3 4.0 19.9 Z" fill="none" stroke="#222" stroke-width="1.3"/><path d="M7.2 9 V21 M10.3 9 V21 M13.5 9 V21" stroke="#222" stroke-width="1.25"/></svg><div class="a" style="left:532px;top:778px;width:1487px;height:1px;background:#d6d6d6"></div><div class="a" style="left:532px;top:779px;width:1487px;height:1px;background:#ececec"></div><div class="t s" style="left:544.0px;top:792.01px;font-size:17px;line-height:21px;color:#222;font-weight:normal;letter-spacing:-0.098px;">The LONG Experience</div>
<div class="t s" style="left:1049.2px;top:792.01px;font-size:17px;line-height:21px;color:#222;font-weight:normal;">Challenge testing -FS</div>
<div class="t s" style="left:1352.8px;top:791.34px;font-size:17.5px;line-height:22px;color:#222;font-weight:normal;">0</div>
<div class="t s" style="left:1451.9px;top:791.34px;font-size:17.5px;line-height:22px;color:#222;font-weight:normal;letter-spacing:0.5px;">$50.00</div>
<svg style="left:1642px;top:794.24px" width="17" height="17" viewBox="0 0 17 17"><path d="M2.5 2.4 L14 13.9 M14 2.4 L2.5 13.9" stroke="#f2000f" stroke-width="3.8"/></svg><svg style="left:1838px;top:792.8px" width="20" height="15" viewBox="0 0 20 15"><path d="M1.0 7.4 Q10 -5.3 19.0 7.4 Q10 20.1 1.0 7.4 Z" fill="none" stroke="#1b1b2d" stroke-width="2.1" stroke-linejoin="round"/><circle cx="9.85" cy="6.3" r="4.4" fill="#1b1b2d"/><circle cx="8.4" cy="7.0" r="2.0" fill="#fff"/></svg><svg style="left:1874px;top:789.8px" width="18" height="20" viewBox="0 0 18 20"><g fill="none" stroke="#222" stroke-width="2.2"><path transform="translate(12,1.5) rotate(45)" d="M7.1 2.6 V2.3 Q7.1 0 4.8 0 H2.3 Q0 0 0 2.3 V7.5 Q0 9.8 2.3 9.8 H5"/><path transform="rotate(180 9.2 10.35) translate(12,1.5) rotate(45)" d="M7.1 2.6 V2.3 Q7.1 0 4.8 0 H2.3 Q0 0 0 2.3 V7.5 Q0 9.8 2.3 9.8 H5"/></g></svg><svg style="left:1909px;top:789.8px" width="19" height="20" viewBox="0 0 19 20"><rect x="0.7" y="15.2" width="17" height="4.4" fill="#222"/><circle cx="15.6" cy="17.3" r="0.75" fill="#fff"/><path d="M3.4 2.5 L5.1 4.2" stroke="#222" stroke-width="4.3"/><path d="M6.3 5.4 L11.5 10.6" stroke="#222" stroke-width="4.3"/><path d="M14.6 3 V13.5 H4.3 Z" fill="#222"/></svg><svg style="left:1944px;top:790.8px" width="20" height="20" viewBox="0 0 20 20"><path d="M1.3 14.2 L13.6 1.9 Q14.6 0.9 15.6 1.9 L18.3 4.6 Q19.3 5.6 18.3 6.6 L6.3 18.7 L1.3 18.7 Z" fill="#222"/><path d="M10.9 4.6 L15.7 9.4" stroke="#fff" stroke-width="1.1"/><path d="M5.3 12.6 L11.0 6.8" stroke="#fff" stroke-width="0.6" stroke-dasharray="0.8 0.6"/><path d="M3.3 14.9 L5.5 17.1" stroke="#fff" stroke-width="1.2" stroke-linecap="round"/></svg><svg style="left:1980px;top:787.8px" width="21" height="23" viewBox="0 0 21 23"><path d="M2.3 5.7 H18.6" stroke="#222" stroke-width="1.3" stroke-linecap="round"/><path d="M7.3 5.3 V3.9 Q7.3 2.9 8.4 2.9 H12.6 Q13.7 2.9 13.7 3.9 V5.3" fill="none" stroke="#222" stroke-width="1.2"/><path d="M4.0 8.8 H16.6 V19.9 Q16.6 21.3 15.1 21.3 H5.5 Q4.0 21.3 4.0 19.9 Z" fill="none" stroke="#222" stroke-width="1.3"/><path d="M7.2 9 V21 M10.3 9 V21 M13.5 9 V21" stroke="#222" stroke-width="1.25"/></svg><div class="a" style="left:532px;top:825.58px;width:1487px;height:47.28px;background:#f8f8f8"></div><div class="a" style="left:532px;top:825px;width:1487px;height:1px;background:#d6d6d6"></div><div class="a" style="left:532px;top:826px;width:1487px;height:1px;background:#ececec"></div><div class="t s" style="left:544.0px;top:839.29px;font-size:17px;line-height:21px;color:#222;font-weight:normal;letter-spacing:-0.609px;">5 Class Pass</div>
<div class="t s" style="left:1049.2px;top:839.29px;font-size:17px;line-height:21px;color:#222;font-weight:normal;">Challenge testing -FS</div>
<div class="t s" style="left:1352.8px;top:838.62px;font-size:17.5px;line-height:22px;color:#222;font-weight:normal;">5</div>
<div class="t s" style="left:1451.9px;top:838.62px;font-size:17.5px;line-height:22px;color:#222;font-weight:normal;letter-spacing:0.5px;">$70.00</div>
<svg style="left:1642px;top:839.08px" width="21" height="18" viewBox="0 0 21 18"><path d="M2.6 7.8 L8.3 13.5 L18.4 3.4" fill="none" stroke="#0f7d20" stroke-width="4" stroke-linejoin="miter"/></svg><svg style="left:1838px;top:840.08px" width="20" height="15" viewBox="0 0 20 15"><path d="M1.0 7.4 Q10 -5.3 19.0 7.4 Q10 20.1 1.0 7.4 Z" fill="none" stroke="#1b1b2d" stroke-width="2.1" stroke-linejoin="round"/><circle cx="9.85" cy="6.3" r="4.4" fill="#1b1b2d"/><circle cx="8.4" cy="7.0" r="2.0" fill="#fff"/></svg><svg style="left:1874px;top:837.08px" width="18" height="20" viewBox="0 0 18 20"><g fill="none" stroke="#222" stroke-width="2.2"><path transform="translate(12,1.5) rotate(45)" d="M7.1 2.6 V2.3 Q7.1 0 4.8 0 H2.3 Q0 0 0 2.3 V7.5 Q0 9.8 2.3 9.8 H5"/><path transform="rotate(180 9.2 10.35) translate(12,1.5) rotate(45)" d="M7.1 2.6 V2.3 Q7.1 0 4.8 0 H2.3 Q0 0 0 2.3 V7.5 Q0 9.8 2.3 9.8 H5"/></g></svg><svg style="left:1909px;top:837.08px" width="19" height="20" viewBox="0 0 19 20"><rect x="0.7" y="15.2" width="17" height="4.4" fill="#222"/><circle cx="15.6" cy="17.3" r="0.75" fill="#fff"/><path d="M3.4 2.5 L5.1 4.2" stroke="#222" stroke-width="4.3"/><path d="M6.3 5.4 L11.5 10.6" stroke="#222" stroke-width="4.3"/><path d="M14.6 3 V13.5 H4.3 Z" fill="#222"/></svg><svg style="left:1944px;top:838.08px" width="20" height="20" viewBox="0 0 20 20"><path d="M1.3 14.2 L13.6 1.9 Q14.6 0.9 15.6 1.9 L18.3 4.6 Q19.3 5.6 18.3 6.6 L6.3 18.7 L1.3 18.7 Z" fill="#222"/><path d="M10.9 4.6 L15.7 9.4" stroke="#fff" stroke-width="1.1"/><path d="M5.3 12.6 L11.0 6.8" stroke="#fff" stroke-width="0.6" stroke-dasharray="0.8 0.6"/><path d="M3.3 14.9 L5.5 17.1" stroke="#fff" stroke-width="1.2" stroke-linecap="round"/></svg><svg style="left:1980px;top:835.08px" width="21" height="23" viewBox="0 0 21 23"><path d="M2.3 5.7 H18.6" stroke="#222" stroke-width="1.3" stroke-linecap="round"/><path d="M7.3 5.3 V3.9 Q7.3 2.9 8.4 2.9 H12.6 Q13.7 2.9 13.7 3.9 V5.3" fill="none" stroke="#222" stroke-width="1.2"/><path d="M4.0 8.8 H16.6 V19.9 Q16.6 21.3 15.1 21.3 H5.5 Q4.0 21.3 4.0 19.9 Z" fill="none" stroke="#222" stroke-width="1.3"/><path d="M7.2 9 V21 M10.3 9 V21 M13.5 9 V21" stroke="#222" stroke-width="1.25"/></svg><div class="a" style="left:532px;top:872px;width:1487px;height:1px;background:#d6d6d6"></div><div class="a" style="left:532px;top:873px;width:1487px;height:1px;background:#ececec"></div><div class="t s" style="left:544.0px;top:886.57px;font-size:17px;line-height:21px;color:#222;font-weight:normal;letter-spacing:-0.147px;">Unlimited 5 classes</div>
<div class="t s" style="left:1049.2px;top:886.57px;font-size:17px;line-height:21px;color:#222;font-weight:normal;">Challenge testing -FS</div>
<div class="t s" style="left:1352.8px;top:885.90px;font-size:17.5px;line-height:22px;color:#222;font-weight:normal;">0</div>
<div class="t s" style="left:1451.9px;top:885.90px;font-size:17.5px;line-height:22px;color:#222;font-weight:normal;letter-spacing:0.5px;">$75.00</div>
<svg style="left:1642px;top:886.36px" width="21" height="18" viewBox="0 0 21 18"><path d="M2.6 7.8 L8.3 13.5 L18.4 3.4" fill="none" stroke="#0f7d20" stroke-width="4" stroke-linejoin="miter"/></svg><svg style="left:1838px;top:887.36px" width="20" height="15" viewBox="0 0 20 15"><path d="M1.0 7.4 Q10 -5.3 19.0 7.4 Q10 20.1 1.0 7.4 Z" fill="none" stroke="#1b1b2d" stroke-width="2.1" stroke-linejoin="round"/><circle cx="9.85" cy="6.3" r="4.4" fill="#1b1b2d"/><circle cx="8.4" cy="7.0" r="2.0" fill="#fff"/></svg><svg style="left:1874px;top:884.36px" width="18" height="20" viewBox="0 0 18 20"><g fill="none" stroke="#222" stroke-width="2.2"><path transform="translate(12,1.5) rotate(45)" d="M7.1 2.6 V2.3 Q7.1 0 4.8 0 H2.3 Q0 0 0 2.3 V7.5 Q0 9.8 2.3 9.8 H5"/><path transform="rotate(180 9.2 10.35) translate(12,1.5) rotate(45)" d="M7.1 2.6 V2.3 Q7.1 0 4.8 0 H2.3 Q0 0 0 2.3 V7.5 Q0 9.8 2.3 9.8 H5"/></g></svg><svg style="left:1909px;top:884.36px" width="19" height="20" viewBox="0 0 19 20"><rect x="0.7" y="15.2" width="17" height="4.4" fill="#222"/><circle cx="15.6" cy="17.3" r="0.75" fill="#fff"/><path d="M3.4 2.5 L5.1 4.2" stroke="#222" stroke-width="4.3"/><path d="M6.3 5.4 L11.5 10.6" stroke="#222" stroke-width="4.3"/><path d="M14.6 3 V13.5 H4.3 Z" fill="#222"/></svg><svg style="left:1944px;top:885.36px" width="20" height="20" viewBox="0 0 20 20"><path d="M1.3 14.2 L13.6 1.9 Q14.6 0.9 15.6 1.9 L18.3 4.6 Q19.3 5.6 18.3 6.6 L6.3 18.7 L1.3 18.7 Z" fill="#222"/><path d="M10.9 4.6 L15.7 9.4" stroke="#fff" stroke-width="1.1"/><path d="M5.3 12.6 L11.0 6.8" stroke="#fff" stroke-width="0.6" stroke-dasharray="0.8 0.6"/><path d="M3.3 14.9 L5.5 17.1" stroke="#fff" stroke-width="1.2" stroke-linecap="round"/></svg><svg style="left:1980px;top:882.36px" width="21" height="23" viewBox="0 0 21 23"><path d="M2.3 5.7 H18.6" stroke="#222" stroke-width="1.3" stroke-linecap="round"/><path d="M7.3 5.3 V3.9 Q7.3 2.9 8.4 2.9 H12.6 Q13.7 2.9 13.7 3.9 V5.3" fill="none" stroke="#222" stroke-width="1.2"/><path d="M4.0 8.8 H16.6 V19.9 Q16.6 21.3 15.1 21.3 H5.5 Q4.0 21.3 4.0 19.9 Z" fill="none" stroke="#222" stroke-width="1.3"/><path d="M7.2 9 V21 M10.3 9 V21 M13.5 9 V21" stroke="#222" stroke-width="1.25"/></svg><div class="a" style="left:532px;top:920.14px;width:1487px;height:47.28px;background:#f8f8f8"></div><div class="a" style="left:532px;top:920px;width:1487px;height:1px;background:#d6d6d6"></div><div class="a" style="left:532px;top:921px;width:1487px;height:1px;background:#ececec"></div><div class="t s" style="left:544.0px;top:933.85px;font-size:17px;line-height:21px;color:#222;font-weight:normal;letter-spacing:-0.401px;">Pilates Pump 10 Session Pack</div>
<div class="t s" style="left:1049.2px;top:933.85px;font-size:17px;line-height:21px;color:#222;font-weight:normal;">Challenge testing -FS</div>
<div class="t s" style="left:1352.8px;top:933.18px;font-size:17.5px;line-height:22px;color:#222;font-weight:normal;">1</div>
<div class="t s" style="left:1451.9px;top:933.18px;font-size:17.5px;line-height:22px;color:#222;font-weight:normal;letter-spacing:0.5px;">$100.00</div>
<svg style="left:1642px;top:936.0799999999999px" width="17" height="17" viewBox="0 0 17 17"><path d="M2.5 2.4 L14 13.9 M14 2.4 L2.5 13.9" stroke="#f2000f" stroke-width="3.8"/></svg><svg style="left:1838px;top:934.64px" width="20" height="15" viewBox="0 0 20 15"><path d="M1.0 7.4 Q10 -5.3 19.0 7.4 Q10 20.1 1.0 7.4 Z" fill="none" stroke="#1b1b2d" stroke-width="2.1" stroke-linejoin="round"/><circle cx="9.85" cy="6.3" r="4.4" fill="#1b1b2d"/><circle cx="8.4" cy="7.0" r="2.0" fill="#fff"/></svg><svg style="left:1874px;top:931.64px" width="18" height="20" viewBox="0 0 18 20"><g fill="none" stroke="#222" stroke-width="2.2"><path transform="translate(12,1.5) rotate(45)" d="M7.1 2.6 V2.3 Q7.1 0 4.8 0 H2.3 Q0 0 0 2.3 V7.5 Q0 9.8 2.3 9.8 H5"/><path transform="rotate(180 9.2 10.35) translate(12,1.5) rotate(45)" d="M7.1 2.6 V2.3 Q7.1 0 4.8 0 H2.3 Q0 0 0 2.3 V7.5 Q0 9.8 2.3 9.8 H5"/></g></svg><svg style="left:1909px;top:931.64px" width="19" height="20" viewBox="0 0 19 20"><rect x="0.7" y="15.2" width="17" height="4.4" fill="#222"/><circle cx="15.6" cy="17.3" r="0.75" fill="#fff"/><path d="M3.4 2.5 L5.1 4.2" stroke="#222" stroke-width="4.3"/><path d="M6.3 5.4 L11.5 10.6" stroke="#222" stroke-width="4.3"/><path d="M14.6 3 V13.5 H4.3 Z" fill="#222"/></svg><svg style="left:1944px;top:932.64px" width="20" height="20" viewBox="0 0 20 20"><path d="M1.3 14.2 L13.6 1.9 Q14.6 0.9 15.6 1.9 L18.3 4.6 Q19.3 5.6 18.3 6.6 L6.3 18.7 L1.3 18.7 Z" fill="#222"/><path d="M10.9 4.6 L15.7 9.4" stroke="#fff" stroke-width="1.1"/><path d="M5.3 12.6 L11.0 6.8" stroke="#fff" stroke-width="0.6" stroke-dasharray="0.8 0.6"/><path d="M3.3 14.9 L5.5 17.1" stroke="#fff" stroke-width="1.2" stroke-linecap="round"/></svg><svg style="left:1980px;top:929.64px" width="21" height="23" viewBox="0 0 21 23"><path d="M2.3 5.7 H18.6" stroke="#222" stroke-width="1.3" stroke-linecap="round"/><path d="M7.3 5.3 V3.9 Q7.3 2.9 8.4 2.9 H12.6 Q13.7 2.9 13.7 3.9 V5.3" fill="none" stroke="#222" stroke-width="1.2"/><path d="M4.0 8.8 H16.6 V19.9 Q16.6 21.3 15.1 21.3 H5.5 Q4.0 21.3 4.0 19.9 Z" fill="none" stroke="#222" stroke-width="1.3"/><path d="M7.2 9 V21 M10.3 9 V21 M13.5 9 V21" stroke="#222" stroke-width="1.25"/></svg><div class="a" style="left:532px;top:967px;width:1487px;height:1px;background:#d6d6d6"></div><div class="a" style="left:532px;top:968px;width:1487px;height:1px;background:#ececec"></div><div class="t s" style="left:544.0px;top:981.13px;font-size:17px;line-height:21px;color:#222;font-weight:normal;letter-spacing:0.304px;">Upfron Payment</div>
<div class="t s" style="left:1049.2px;top:981.13px;font-size:17px;line-height:21px;color:#222;font-weight:normal;">Challenge testing -FS</div>
<div class="t s" style="left:1352.8px;top:980.46px;font-size:17.5px;line-height:22px;color:#222;font-weight:normal;">0</div>
<div class="t s" style="left:1451.9px;top:980.46px;font-size:17.5px;line-height:22px;color:#222;font-weight:normal;letter-spacing:0.5px;">$196.00</div>
<svg style="left:1642px;top:983.3600000000001px" width="17" height="17" viewBox="0 0 17 17"><path d="M2.5 2.4 L14 13.9 M14 2.4 L2.5 13.9" stroke="#f2000f" stroke-width="3.8"/></svg><svg style="left:1838px;top:981.9200000000001px" width="20" height="15" viewBox="0 0 20 15"><path d="M1.0 7.4 Q10 -5.3 19.0 7.4 Q10 20.1 1.0 7.4 Z" fill="none" stroke="#1b1b2d" stroke-width="2.1" stroke-linejoin="round"/><circle cx="9.85" cy="6.3" r="4.4" fill="#1b1b2d"/><circle cx="8.4" cy="7.0" r="2.0" fill="#fff"/></svg><svg style="left:1874px;top:978.9200000000001px" width="18" height="20" viewBox="0 0 18 20"><g fill="none" stroke="#222" stroke-width="2.2"><path transform="translate(12,1.5) rotate(45)" d="M7.1 2.6 V2.3 Q7.1 0 4.8 0 H2.3 Q0 0 0 2.3 V7.5 Q0 9.8 2.3 9.8 H5"/><path transform="rotate(180 9.2 10.35) translate(12,1.5) rotate(45)" d="M7.1 2.6 V2.3 Q7.1 0 4.8 0 H2.3 Q0 0 0 2.3 V7.5 Q0 9.8 2.3 9.8 H5"/></g></svg><svg style="left:1909px;top:978.9200000000001px" width="19" height="20" viewBox="0 0 19 20"><rect x="0.7" y="15.2" width="17" height="4.4" fill="#222"/><circle cx="15.6" cy="17.3" r="0.75" fill="#fff"/><path d="M3.4 2.5 L5.1 4.2" stroke="#222" stroke-width="4.3"/><path d="M6.3 5.4 L11.5 10.6" stroke="#222" stroke-width="4.3"/><path d="M14.6 3 V13.5 H4.3 Z" fill="#222"/></svg><svg style="left:1944px;top:979.9200000000001px" width="20" height="20" viewBox="0 0 20 20"><path d="M1.3 14.2 L13.6 1.9 Q14.6 0.9 15.6 1.9 L18.3 4.6 Q19.3 5.6 18.3 6.6 L6.3 18.7 L1.3 18.7 Z" fill="#222"/><path d="M10.9 4.6 L15.7 9.4" stroke="#fff" stroke-width="1.1"/><path d="M5.3 12.6 L11.0 6.8" stroke="#fff" stroke-width="0.6" stroke-dasharray="0.8 0.6"/><path d="M3.3 14.9 L5.5 17.1" stroke="#fff" stroke-width="1.2" stroke-linecap="round"/></svg><svg style="left:1980px;top:976.9200000000001px" width="21" height="23" viewBox="0 0 21 23"><path d="M2.3 5.7 H18.6" stroke="#222" stroke-width="1.3" stroke-linecap="round"/><path d="M7.3 5.3 V3.9 Q7.3 2.9 8.4 2.9 H12.6 Q13.7 2.9 13.7 3.9 V5.3" fill="none" stroke="#222" stroke-width="1.2"/><path d="M4.0 8.8 H16.6 V19.9 Q16.6 21.3 15.1 21.3 H5.5 Q4.0 21.3 4.0 19.9 Z" fill="none" stroke="#222" stroke-width="1.3"/><path d="M7.2 9 V21 M10.3 9 V21 M13.5 9 V21" stroke="#222" stroke-width="1.25"/></svg><div class="a" style="left:532px;top:1014.70px;width:1487px;height:47.28px;background:#f8f8f8"></div><div class="a" style="left:532px;top:1014px;width:1487px;height:1px;background:#d6d6d6"></div><div class="a" style="left:532px;top:1015px;width:1487px;height:1px;background:#ececec"></div><div class="t s" style="left:544.0px;top:1028.41px;font-size:17px;line-height:21px;color:#222;font-weight:normal;letter-spacing:-0.255px;">Demo 10 Pack</div>
<div class="t s" style="left:1049.2px;top:1028.41px;font-size:17px;line-height:21px;color:#222;font-weight:normal;">Challenge testing -FS</div>
<div class="t s" style="left:1352.8px;top:1027.74px;font-size:17.5px;line-height:22px;color:#222;font-weight:normal;">0</div>
<div class="t s" style="left:1451.9px;top:1027.74px;font-size:17.5px;line-height:22px;color:#222;font-weight:normal;letter-spacing:0.5px;">$200.00</div>
<svg style="left:1642px;top:1028.2px" width="21" height="18" viewBox="0 0 21 18"><path d="M2.6 7.8 L8.3 13.5 L18.4 3.4" fill="none" stroke="#0f7d20" stroke-width="4" stroke-linejoin="miter"/></svg><svg style="left:1838px;top:1029.2px" width="20" height="15" viewBox="0 0 20 15"><path d="M1.0 7.4 Q10 -5.3 19.0 7.4 Q10 20.1 1.0 7.4 Z" fill="none" stroke="#1b1b2d" stroke-width="2.1" stroke-linejoin="round"/><circle cx="9.85" cy="6.3" r="4.4" fill="#1b1b2d"/><circle cx="8.4" cy="7.0" r="2.0" fill="#fff"/></svg><svg style="left:1874px;top:1026.2px" width="18" height="20" viewBox="0 0 18 20"><g fill="none" stroke="#222" stroke-width="2.2"><path transform="translate(12,1.5) rotate(45)" d="M7.1 2.6 V2.3 Q7.1 0 4.8 0 H2.3 Q0 0 0 2.3 V7.5 Q0 9.8 2.3 9.8 H5"/><path transform="rotate(180 9.2 10.35) translate(12,1.5) rotate(45)" d="M7.1 2.6 V2.3 Q7.1 0 4.8 0 H2.3 Q0 0 0 2.3 V7.5 Q0 9.8 2.3 9.8 H5"/></g></svg><svg style="left:1909px;top:1026.2px" width="19" height="20" viewBox="0 0 19 20"><rect x="0.7" y="15.2" width="17" height="4.4" fill="#222"/><circle cx="15.6" cy="17.3" r="0.75" fill="#fff"/><path d="M3.4 2.5 L5.1 4.2" stroke="#222" stroke-width="4.3"/><path d="M6.3 5.4 L11.5 10.6" stroke="#222" stroke-width="4.3"/><path d="M14.6 3 V13.5 H4.3 Z" fill="#222"/></svg><svg style="left:1944px;top:1027.2px" width="20" height="20" viewBox="0 0 20 20"><path d="M1.3 14.2 L13.6 1.9 Q14.6 0.9 15.6 1.9 L18.3 4.6 Q19.3 5.6 18.3 6.6 L6.3 18.7 L1.3 18.7 Z" fill="#222"/><path d="M10.9 4.6 L15.7 9.4" stroke="#fff" stroke-width="1.1"/><path d="M5.3 12.6 L11.0 6.8" stroke="#fff" stroke-width="0.6" stroke-dasharray="0.8 0.6"/><path d="M3.3 14.9 L5.5 17.1" stroke="#fff" stroke-width="1.2" stroke-linecap="round"/></svg><svg style="left:1980px;top:1024.2px" width="21" height="23" viewBox="0 0 21 23"><path d="M2.3 5.7 H18.6" stroke="#222" stroke-width="1.3" stroke-linecap="round"/><path d="M7.3 5.3 V3.9 Q7.3 2.9 8.4 2.9 H12.6 Q13.7 2.9 13.7 3.9 V5.3" fill="none" stroke="#222" stroke-width="1.2"/><path d="M4.0 8.8 H16.6 V19.9 Q16.6 21.3 15.1 21.3 H5.5 Q4.0 21.3 4.0 19.9 Z" fill="none" stroke="#222" stroke-width="1.3"/><path d="M7.2 9 V21 M10.3 9 V21 M13.5 9 V21" stroke="#222" stroke-width="1.25"/></svg><div class="a" style="left:532px;top:1061px;width:1487px;height:1px;background:#d6d6d6"></div><div class="a" style="left:532px;top:1062px;width:1487px;height:1px;background:#ececec"></div><div class="t s" style="left:544.0px;top:1075.69px;font-size:17px;line-height:21px;color:#222;font-weight:normal;letter-spacing:0.065px;">Nat Auto Renew</div>
<div class="t s" style="left:1049.2px;top:1075.69px;font-size:17px;line-height:21px;color:#222;font-weight:normal;">Challenge testing -FS</div>
<div class="t s" style="left:1352.8px;top:1075.02px;font-size:17.5px;line-height:22px;color:#222;font-weight:normal;">0</div>
<div class="t s" style="left:1451.9px;top:1075.02px;font-size:17.5px;line-height:22px;color:#222;font-weight:normal;letter-spacing:0.5px;">$300.00</div>
<svg style="left:1642px;top:1077.92px" width="17" height="17" viewBox="0 0 17 17"><path d="M2.5 2.4 L14 13.9 M14 2.4 L2.5 13.9" stroke="#f2000f" stroke-width="3.8"/></svg><svg style="left:1838px;top:1076.48px" width="20" height="15" viewBox="0 0 20 15"><path d="M1.0 7.4 Q10 -5.3 19.0 7.4 Q10 20.1 1.0 7.4 Z" fill="none" stroke="#1b1b2d" stroke-width="2.1" stroke-linejoin="round"/><circle cx="9.85" cy="6.3" r="4.4" fill="#1b1b2d"/><circle cx="8.4" cy="7.0" r="2.0" fill="#fff"/></svg><svg style="left:1874px;top:1073.48px" width="18" height="20" viewBox="0 0 18 20"><g fill="none" stroke="#222" stroke-width="2.2"><path transform="translate(12,1.5) rotate(45)" d="M7.1 2.6 V2.3 Q7.1 0 4.8 0 H2.3 Q0 0 0 2.3 V7.5 Q0 9.8 2.3 9.8 H5"/><path transform="rotate(180 9.2 10.35) translate(12,1.5) rotate(45)" d="M7.1 2.6 V2.3 Q7.1 0 4.8 0 H2.3 Q0 0 0 2.3 V7.5 Q0 9.8 2.3 9.8 H5"/></g></svg><svg style="left:1909px;top:1073.48px" width="19" height="20" viewBox="0 0 19 20"><rect x="0.7" y="15.2" width="17" height="4.4" fill="#222"/><circle cx="15.6" cy="17.3" r="0.75" fill="#fff"/><path d="M3.4 2.5 L5.1 4.2" stroke="#222" stroke-width="4.3"/><path d="M6.3 5.4 L11.5 10.6" stroke="#222" stroke-width="4.3"/><path d="M14.6 3 V13.5 H4.3 Z" fill="#222"/></svg><svg style="left:1944px;top:1074.48px" width="20" height="20" viewBox="0 0 20 20"><path d="M1.3 14.2 L13.6 1.9 Q14.6 0.9 15.6 1.9 L18.3 4.6 Q19.3 5.6 18.3 6.6 L6.3 18.7 L1.3 18.7 Z" fill="#222"/><path d="M10.9 4.6 L15.7 9.4" stroke="#fff" stroke-width="1.1"/><path d="M5.3 12.6 L11.0 6.8" stroke="#fff" stroke-width="0.6" stroke-dasharray="0.8 0.6"/><path d="M3.3 14.9 L5.5 17.1" stroke="#fff" stroke-width="1.2" stroke-linecap="round"/></svg><svg style="left:1980px;top:1071.48px" width="21" height="23" viewBox="0 0 21 23"><path d="M2.3 5.7 H18.6" stroke="#222" stroke-width="1.3" stroke-linecap="round"/><path d="M7.3 5.3 V3.9 Q7.3 2.9 8.4 2.9 H12.6 Q13.7 2.9 13.7 3.9 V5.3" fill="none" stroke="#222" stroke-width="1.2"/><path d="M4.0 8.8 H16.6 V19.9 Q16.6 21.3 15.1 21.3 H5.5 Q4.0 21.3 4.0 19.9 Z" fill="none" stroke="#222" stroke-width="1.3"/><path d="M7.2 9 V21 M10.3 9 V21 M13.5 9 V21" stroke="#222" stroke-width="1.25"/></svg><div class="a" style="left:532px;top:1109.26px;width:1487px;height:47.28px;background:#f8f8f8"></div><div class="a" style="left:532px;top:1109px;width:1487px;height:1px;background:#d6d6d6"></div><div class="a" style="left:532px;top:1110px;width:1487px;height:1px;background:#ececec"></div><div class="t s" style="left:544.0px;top:1122.97px;font-size:17px;line-height:21px;color:#222;font-weight:normal;letter-spacing:0.047px;">Nat's Dance Workshop</div>
<div class="t s" style="left:1049.2px;top:1122.97px;font-size:17px;line-height:21px;color:#222;font-weight:normal;">Challenge testing -FS</div>
<div class="t s" style="left:1352.8px;top:1122.30px;font-size:17.5px;line-height:22px;color:#222;font-weight:normal;">0</div>
<div class="t s" style="left:1451.9px;top:1122.30px;font-size:17.5px;line-height:22px;color:#222;font-weight:normal;letter-spacing:0.5px;">$300.00</div>
<svg style="left:1642px;top:1125.2px" width="17" height="17" viewBox="0 0 17 17"><path d="M2.5 2.4 L14 13.9 M14 2.4 L2.5 13.9" stroke="#f2000f" stroke-width="3.8"/></svg><svg style="left:1838px;top:1123.76px" width="20" height="15" viewBox="0 0 20 15"><path d="M1.0 7.4 Q10 -5.3 19.0 7.4 Q10 20.1 1.0 7.4 Z" fill="none" stroke="#1b1b2d" stroke-width="2.1" stroke-linejoin="round"/><circle cx="9.85" cy="6.3" r="4.4" fill="#1b1b2d"/><circle cx="8.4" cy="7.0" r="2.0" fill="#fff"/></svg><svg style="left:1874px;top:1120.76px" width="18" height="20" viewBox="0 0 18 20"><g fill="none" stroke="#222" stroke-width="2.2"><path transform="translate(12,1.5) rotate(45)" d="M7.1 2.6 V2.3 Q7.1 0 4.8 0 H2.3 Q0 0 0 2.3 V7.5 Q0 9.8 2.3 9.8 H5"/><path transform="rotate(180 9.2 10.35) translate(12,1.5) rotate(45)" d="M7.1 2.6 V2.3 Q7.1 0 4.8 0 H2.3 Q0 0 0 2.3 V7.5 Q0 9.8 2.3 9.8 H5"/></g></svg><svg style="left:1909px;top:1120.76px" width="19" height="20" viewBox="0 0 19 20"><rect x="0.7" y="15.2" width="17" height="4.4" fill="#222"/><circle cx="15.6" cy="17.3" r="0.75" fill="#fff"/><path d="M3.4 2.5 L5.1 4.2" stroke="#222" stroke-width="4.3"/><path d="M6.3 5.4 L11.5 10.6" stroke="#222" stroke-width="4.3"/><path d="M14.6 3 V13.5 H4.3 Z" fill="#222"/></svg><svg style="left:1944px;top:1121.76px" width="20" height="20" viewBox="0 0 20 20"><path d="M1.3 14.2 L13.6 1.9 Q14.6 0.9 15.6 1.9 L18.3 4.6 Q19.3 5.6 18.3 6.6 L6.3 18.7 L1.3 18.7 Z" fill="#222"/><path d="M10.9 4.6 L15.7 9.4" stroke="#fff" stroke-width="1.1"/><path d="M5.3 12.6 L11.0 6.8" stroke="#fff" stroke-width="0.6" stroke-dasharray="0.8 0.6"/><path d="M3.3 14.9 L5.5 17.1" stroke="#fff" stroke-width="1.2" stroke-linecap="round"/></svg><svg style="left:1980px;top:1118.76px" width="21" height="23" viewBox="0 0 21 23"><path d="M2.3 5.7 H18.6" stroke="#e8141e" stroke-width="1.3" stroke-linecap="round"/><path d="M7.3 5.3 V3.9 Q7.3 2.9 8.4 2.9 H12.6 Q13.7 2.9 13.7 3.9 V5.3" fill="none" stroke="#e8141e" stroke-width="1.2"/><path d="M4.0 8.8 H16.6 V19.9 Q16.6 21.3 15.1 21.3 H5.5 Q4.0 21.3 4.0 19.9 Z" fill="none" stroke="#e8141e" stroke-width="1.3"/><path d="M7.2 9 V21 M10.3 9 V21 M13.5 9 V21" stroke="#e8141e" stroke-width="1.25"/></svg><div class="a" style="left:532px;top:1156px;width:1487px;height:1px;background:#d6d6d6"></div><div class="a" style="left:532px;top:1157px;width:1487px;height:1px;background:#ececec"></div><div class="t s" style="left:544.0px;top:1170.25px;font-size:17px;line-height:21px;color:#222;font-weight:normal;letter-spacing:0.109px;">Adam Package</div>
<div class="t s" style="left:1049.2px;top:1170.25px;font-size:17px;line-height:21px;color:#222;font-weight:normal;">Challenge testing -FS</div>
<div class="t s" style="left:1352.8px;top:1169.58px;font-size:17.5px;line-height:22px;color:#222;font-weight:normal;">0</div>
<div class="t s" style="left:1451.9px;top:1169.58px;font-size:17.5px;line-height:22px;color:#222;font-weight:normal;letter-spacing:0.5px;">$300.00</div>
<svg style="left:1642px;top:1170.04px" width="21" height="18" viewBox="0 0 21 18"><path d="M2.6 7.8 L8.3 13.5 L18.4 3.4" fill="none" stroke="#0f7d20" stroke-width="4" stroke-linejoin="miter"/></svg><svg style="left:1838px;top:1171.04px" width="20" height="15" viewBox="0 0 20 15"><path d="M1.0 7.4 Q10 -5.3 19.0 7.4 Q10 20.1 1.0 7.4 Z" fill="none" stroke="#1b1b2d" stroke-width="2.1" stroke-linejoin="round"/><circle cx="9.85" cy="6.3" r="4.4" fill="#1b1b2d"/><circle cx="8.4" cy="7.0" r="2.0" fill="#fff"/></svg><svg style="left:1874px;top:1168.04px" width="18" height="20" viewBox="0 0 18 20"><g fill="none" stroke="#222" stroke-width="2.2"><path transform="translate(12,1.5) rotate(45)" d="M7.1 2.6 V2.3 Q7.1 0 4.8 0 H2.3 Q0 0 0 2.3 V7.5 Q0 9.8 2.3 9.8 H5"/><path transform="rotate(180 9.2 10.35) translate(12,1.5) rotate(45)" d="M7.1 2.6 V2.3 Q7.1 0 4.8 0 H2.3 Q0 0 0 2.3 V7.5 Q0 9.8 2.3 9.8 H5"/></g></svg><svg style="left:1909px;top:1168.04px" width="19" height="20" viewBox="0 0 19 20"><rect x="0.7" y="15.2" width="17" height="4.4" fill="#222"/><circle cx="15.6" cy="17.3" r="0.75" fill="#fff"/><path d="M3.4 2.5 L5.1 4.2" stroke="#222" stroke-width="4.3"/><path d="M6.3 5.4 L11.5 10.6" stroke="#222" stroke-width="4.3"/><path d="M14.6 3 V13.5 H4.3 Z" fill="#222"/></svg><svg style="left:1944px;top:1169.04px" width="20" height="20" viewBox="0 0 20 20"><path d="M1.3 14.2 L13.6 1.9 Q14.6 0.9 15.6 1.9 L18.3 4.6 Q19.3 5.6 18.3 6.6 L6.3 18.7 L1.3 18.7 Z" fill="#222"/><path d="M10.9 4.6 L15.7 9.4" stroke="#fff" stroke-width="1.1"/><path d="M5.3 12.6 L11.0 6.8" stroke="#fff" stroke-width="0.6" stroke-dasharray="0.8 0.6"/><path d="M3.3 14.9 L5.5 17.1" stroke="#fff" stroke-width="1.2" stroke-linecap="round"/></svg><svg style="left:1980px;top:1166.04px" width="21" height="23" viewBox="0 0 21 23"><path d="M2.3 5.7 H18.6" stroke="#222" stroke-width="1.3" stroke-linecap="round"/><path d="M7.3 5.3 V3.9 Q7.3 2.9 8.4 2.9 H12.6 Q13.7 2.9 13.7 3.9 V5.3" fill="none" stroke="#222" stroke-width="1.2"/><path d="M4.0 8.8 H16.6 V19.9 Q16.6 21.3 15.1 21.3 H5.5 Q4.0 21.3 4.0 19.9 Z" fill="none" stroke="#222" stroke-width="1.3"/><path d="M7.2 9 V21 M10.3 9 V21 M13.5 9 V21" stroke="#222" stroke-width="1.25"/></svg><div class="a" style="left:532px;top:1203.82px;width:1487px;height:47.28px;background:#f8f8f8"></div><div class="a" style="left:532px;top:1203px;width:1487px;height:1px;background:#d6d6d6"></div><div class="a" style="left:532px;top:1204px;width:1487px;height:1px;background:#ececec"></div><div class="t s" style="left:544.0px;top:1217.53px;font-size:17px;line-height:21px;color:#222;font-weight:normal;letter-spacing:-0.131px;">20 Visit Pass</div>
<div class="t s" style="left:1049.2px;top:1217.53px;font-size:17px;line-height:21px;color:#222;font-weight:normal;">Challenge testing -FS</div>
<div class="t s" style="left:1352.8px;top:1216.86px;font-size:17.5px;line-height:22px;color:#222;font-weight:normal;">0</div>
<div class="t s" style="left:1451.9px;top:1216.86px;font-size:17.5px;line-height:22px;color:#222;font-weight:normal;letter-spacing:0.5px;">$400.00</div>
<svg style="left:1642px;top:1217.3200000000002px" width="21" height="18" viewBox="0 0 21 18"><path d="M2.6 7.8 L8.3 13.5 L18.4 3.4" fill="none" stroke="#0f7d20" stroke-width="4" stroke-linejoin="miter"/></svg><svg style="left:1838px;top:1218.3200000000002px" width="20" height="15" viewBox="0 0 20 15"><path d="M1.0 7.4 Q10 -5.3 19.0 7.4 Q10 20.1 1.0 7.4 Z" fill="none" stroke="#1b1b2d" stroke-width="2.1" stroke-linejoin="round"/><circle cx="9.85" cy="6.3" r="4.4" fill="#1b1b2d"/><circle cx="8.4" cy="7.0" r="2.0" fill="#fff"/></svg><svg style="left:1874px;top:1215.3200000000002px" width="18" height="20" viewBox="0 0 18 20"><g fill="none" stroke="#222" stroke-width="2.2"><path transform="translate(12,1.5) rotate(45)" d="M7.1 2.6 V2.3 Q7.1 0 4.8 0 H2.3 Q0 0 0 2.3 V7.5 Q0 9.8 2.3 9.8 H5"/><path transform="rotate(180 9.2 10.35) translate(12,1.5) rotate(45)" d="M7.1 2.6 V2.3 Q7.1 0 4.8 0 H2.3 Q0 0 0 2.3 V7.5 Q0 9.8 2.3 9.8 H5"/></g></svg><svg style="left:1909px;top:1215.3200000000002px" width="19" height="20" viewBox="0 0 19 20"><rect x="0.7" y="15.2" width="17" height="4.4" fill="#222"/><circle cx="15.6" cy="17.3" r="0.75" fill="#fff"/><path d="M3.4 2.5 L5.1 4.2" stroke="#222" stroke-width="4.3"/><path d="M6.3 5.4 L11.5 10.6" stroke="#222" stroke-width="4.3"/><path d="M14.6 3 V13.5 H4.3 Z" fill="#222"/></svg><svg style="left:1944px;top:1216.3200000000002px" width="20" height="20" viewBox="0 0 20 20"><path d="M1.3 14.2 L13.6 1.9 Q14.6 0.9 15.6 1.9 L18.3 4.6 Q19.3 5.6 18.3 6.6 L6.3 18.7 L1.3 18.7 Z" fill="#222"/><path d="M10.9 4.6 L15.7 9.4" stroke="#fff" stroke-width="1.1"/><path d="M5.3 12.6 L11.0 6.8" stroke="#fff" stroke-width="0.6" stroke-dasharray="0.8 0.6"/><path d="M3.3 14.9 L5.5 17.1" stroke="#fff" stroke-width="1.2" stroke-linecap="round"/></svg><svg style="left:1980px;top:1213.3200000000002px" width="21" height="23" viewBox="0 0 21 23"><path d="M2.3 5.7 H18.6" stroke="#222" stroke-width="1.3" stroke-linecap="round"/><path d="M7.3 5.3 V3.9 Q7.3 2.9 8.4 2.9 H12.6 Q13.7 2.9 13.7 3.9 V5.3" fill="none" stroke="#222" stroke-width="1.2"/><path d="M4.0 8.8 H16.6 V19.9 Q16.6 21.3 15.1 21.3 H5.5 Q4.0 21.3 4.0 19.9 Z" fill="none" stroke="#222" stroke-width="1.3"/><path d="M7.2 9 V21 M10.3 9 V21 M13.5 9 V21" stroke="#222" stroke-width="1.25"/></svg><div class="a" style="left:532px;top:1250px;width:1487px;height:1px;background:#d6d6d6"></div><div class="a" style="left:532px;top:1251px;width:1487px;height:1px;background:#ececec"></div><div class="t s" style="left:544.0px;top:1264.81px;font-size:17px;line-height:21px;color:#222;font-weight:normal;letter-spacing:0.049px;">Account Management Package</div>
<div class="t s" style="left:1049.2px;top:1264.81px;font-size:17px;line-height:21px;color:#222;font-weight:normal;">Challenge testing -FS</div>
<div class="t s" style="left:1352.8px;top:1264.14px;font-size:17.5px;line-height:22px;color:#222;font-weight:normal;">0</div>
<div class="t s" style="left:1451.9px;top:1264.14px;font-size:17.5px;line-height:22px;color:#222;font-weight:normal;letter-spacing:0.5px;">$500.00</div>
<svg style="left:1642px;top:1267.04px" width="17" height="17" viewBox="0 0 17 17"><path d="M2.5 2.4 L14 13.9 M14 2.4 L2.5 13.9" stroke="#f2000f" stroke-width="3.8"/></svg><svg style="left:1838px;top:1265.6px" width="20" height="15" viewBox="0 0 20 15"><path d="M1.0 7.4 Q10 -5.3 19.0 7.4 Q10 20.1 1.0 7.4 Z" fill="none" stroke="#1b1b2d" stroke-width="2.1" stroke-linejoin="round"/><circle cx="9.85" cy="6.3" r="4.4" fill="#1b1b2d"/><circle cx="8.4" cy="7.0" r="2.0" fill="#fff"/></svg><svg style="left:1874px;top:1262.6px" width="18" height="20" viewBox="0 0 18 20"><g fill="none" stroke="#222" stroke-width="2.2"><path transform="translate(12,1.5) rotate(45)" d="M7.1 2.6 V2.3 Q7.1 0 4.8 0 H2.3 Q0 0 0 2.3 V7.5 Q0 9.8 2.3 9.8 H5"/><path transform="rotate(180 9.2 10.35) translate(12,1.5) rotate(45)" d="M7.1 2.6 V2.3 Q7.1 0 4.8 0 H2.3 Q0 0 0 2.3 V7.5 Q0 9.8 2.3 9.8 H5"/></g></svg><svg style="left:1909px;top:1262.6px" width="19" height="20" viewBox="0 0 19 20"><rect x="0.7" y="15.2" width="17" height="4.4" fill="#222"/><circle cx="15.6" cy="17.3" r="0.75" fill="#fff"/><path d="M3.4 2.5 L5.1 4.2" stroke="#222" stroke-width="4.3"/><path d="M6.3 5.4 L11.5 10.6" stroke="#222" stroke-width="4.3"/><path d="M14.6 3 V13.5 H4.3 Z" fill="#222"/></svg><svg style="left:1944px;top:1263.6px" width="20" height="20" viewBox="0 0 20 20"><path d="M1.3 14.2 L13.6 1.9 Q14.6 0.9 15.6 1.9 L18.3 4.6 Q19.3 5.6 18.3 6.6 L6.3 18.7 L1.3 18.7 Z" fill="#222"/><path d="M10.9 4.6 L15.7 9.4" stroke="#fff" stroke-width="1.1"/><path d="M5.3 12.6 L11.0 6.8" stroke="#fff" stroke-width="0.6" stroke-dasharray="0.8 0.6"/><path d="M3.3 14.9 L5.5 17.1" stroke="#fff" stroke-width="1.2" stroke-linecap="round"/></svg><svg style="left:1980px;top:1260.6px" width="21" height="23" viewBox="0 0 21 23"><path d="M2.3 5.7 H18.6" stroke="#e8141e" stroke-width="1.3" stroke-linecap="round"/><path d="M7.3 5.3 V3.9 Q7.3 2.9 8.4 2.9 H12.6 Q13.7 2.9 13.7 3.9 V5.3" fill="none" stroke="#e8141e" stroke-width="1.2"/><path d="M4.0 8.8 H16.6 V19.9 Q16.6 21.3 15.1 21.3 H5.5 Q4.0 21.3 4.0 19.9 Z" fill="none" stroke="#e8141e" stroke-width="1.3"/><path d="M7.2 9 V21 M10.3 9 V21 M13.5 9 V21" stroke="#e8141e" stroke-width="1.25"/></svg><div class="a" style="left:1007px;top:540px;width:85px;height:63px;border-radius:38px / 30px;background:#fff;box-shadow:0 3px 7px rgba(0,0,0,0.14)"></div><svg style="left:1032px;top:557px" width="37" height="29" viewBox="0 0 37 29"><g fill="none" stroke="#e5503b" stroke-width="2"><path d="M7.2 1.2 H1.2 V7"/><path d="M29.2 1.2 H35.2 V7"/><path d="M1.2 22.2 V27.8 H7.2"/><path d="M35.2 22.2 V27.8 H29.2"/></g><g fill="#e5503b"><rect x="4.95" y="5.5" width="2.3" height="17.9"/><rect x="10.40" y="5.5" width="1.8" height="1.6"/><rect x="10.40" y="8.9" width="1.8" height="14.5"/><rect x="14.60" y="5.5" width="1.8" height="1.6"/><rect x="14.60" y="8.9" width="1.8" height="14.5"/><rect x="19.30" y="5.5" width="2.0" height="17.9"/><rect x="24.10" y="5.5" width="1.8" height="1.6"/><rect x="24.10" y="8.9" width="1.8" height="14.5"/><rect x="29.05" y="5.5" width="2.3" height="17.9"/></g></svg></body></html>
